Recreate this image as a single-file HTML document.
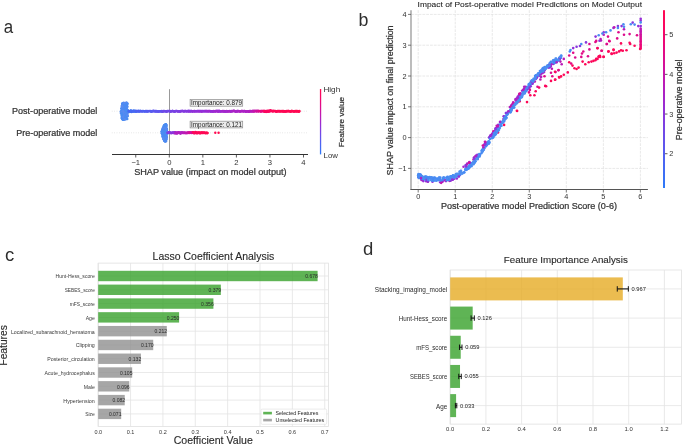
<!DOCTYPE html>
<html><head><meta charset="utf-8"><style>
html,body{margin:0;padding:0;background:#fff;width:685px;height:445px;overflow:hidden}
svg{display:block;filter:blur(0.35px)}
text{font-family:"Liberation Sans",sans-serif}
</style></head><body>
<svg width="685" height="445" viewBox="0 0 685 445">
<rect width="685" height="445" fill="#ffffff"/>
<text x="3.70" y="33.00" font-size="19.20" fill="#2e2e2e" textLength="9.40" lengthAdjust="spacingAndGlyphs">a</text>
<text x="358.40" y="26.00" font-size="17.80" fill="#2e2e2e">b</text>
<text x="5.00" y="260.80" font-size="18.50" fill="#2e2e2e">c</text>
<text x="363.10" y="255.20" font-size="18.50" fill="#2e2e2e">d</text>
<line x1="111.80" y1="111.20" x2="307.50" y2="111.20" stroke="#cfcfcf" stroke-width="0.60" stroke-dasharray="0.8 1.6"/>
<line x1="111.80" y1="132.80" x2="307.50" y2="132.80" stroke="#cfcfcf" stroke-width="0.60" stroke-dasharray="0.8 1.6"/>
<line x1="169.50" y1="89.20" x2="169.50" y2="154.50" stroke="#999999" stroke-width="1.00"/>
<line x1="112.00" y1="154.50" x2="308.00" y2="154.50" stroke="#333333" stroke-width="1.00"/>
<line x1="135.75" y1="154.50" x2="135.75" y2="157.50" stroke="#333333" stroke-width="0.80"/>
<text x="135.75" y="164.90" font-size="7.67" text-anchor="middle" fill="#333333">−1</text>
<line x1="169.30" y1="154.50" x2="169.30" y2="157.50" stroke="#333333" stroke-width="0.80"/>
<text x="169.30" y="164.90" font-size="7.67" text-anchor="middle" fill="#333333">0</text>
<line x1="202.85" y1="154.50" x2="202.85" y2="157.50" stroke="#333333" stroke-width="0.80"/>
<text x="202.85" y="164.90" font-size="7.67" text-anchor="middle" fill="#333333">1</text>
<line x1="236.40" y1="154.50" x2="236.40" y2="157.50" stroke="#333333" stroke-width="0.80"/>
<text x="236.40" y="164.90" font-size="7.67" text-anchor="middle" fill="#333333">2</text>
<line x1="269.95" y1="154.50" x2="269.95" y2="157.50" stroke="#333333" stroke-width="0.80"/>
<text x="269.95" y="164.90" font-size="7.67" text-anchor="middle" fill="#333333">3</text>
<line x1="303.50" y1="154.50" x2="303.50" y2="157.50" stroke="#333333" stroke-width="0.80"/>
<text x="303.50" y="164.90" font-size="7.67" text-anchor="middle" fill="#333333">4</text>
<text x="210.40" y="174.50" font-size="8.48" text-anchor="middle" fill="#333333" textLength="152.50" lengthAdjust="spacingAndGlyphs" stroke="#333333" stroke-width="0.22">SHAP value (impact on model output)</text>
<text x="97.30" y="114.40" font-size="8.39" text-anchor="end" fill="#333333" textLength="85.22" lengthAdjust="spacingAndGlyphs" stroke="#333333" stroke-width="0.22">Post-operative model</text>
<text x="97.30" y="135.80" font-size="8.38" text-anchor="end" fill="#333333" textLength="81.11" lengthAdjust="spacingAndGlyphs" stroke="#333333" stroke-width="0.22">Pre-operative model</text>
<circle cx="123.36" cy="104.16" r="1.30" fill="#5a8af0"/>
<circle cx="121.40" cy="112.60" r="1.30" fill="#4a8cf2"/>
<circle cx="122.29" cy="110.84" r="1.30" fill="#5a8af0"/>
<circle cx="124.29" cy="104.63" r="1.30" fill="#4a8cf2"/>
<circle cx="125.31" cy="110.02" r="1.30" fill="#5a8af0"/>
<circle cx="123.79" cy="118.96" r="1.30" fill="#4a8cf2"/>
<circle cx="123.51" cy="114.54" r="1.30" fill="#4a8cf2"/>
<circle cx="123.96" cy="119.25" r="1.30" fill="#4a8cf2"/>
<circle cx="125.11" cy="117.86" r="1.30" fill="#4a8cf2"/>
<circle cx="121.80" cy="115.85" r="1.30" fill="#5a8af0"/>
<circle cx="121.91" cy="109.06" r="1.30" fill="#4a8cf2"/>
<circle cx="123.19" cy="118.53" r="1.30" fill="#4a8cf2"/>
<circle cx="126.12" cy="107.77" r="1.30" fill="#5a8af0"/>
<circle cx="126.74" cy="106.42" r="1.30" fill="#4a8cf2"/>
<circle cx="126.80" cy="114.31" r="1.30" fill="#4a8cf2"/>
<circle cx="127.10" cy="115.60" r="1.30" fill="#4a8cf2"/>
<circle cx="123.85" cy="117.15" r="1.30" fill="#4a8cf2"/>
<circle cx="126.01" cy="105.19" r="1.30" fill="#4a8cf2"/>
<circle cx="123.15" cy="117.51" r="1.30" fill="#4a8cf2"/>
<circle cx="125.46" cy="109.49" r="1.30" fill="#4a8cf2"/>
<circle cx="126.27" cy="105.76" r="1.30" fill="#5a8af0"/>
<circle cx="127.44" cy="112.34" r="1.30" fill="#4a8cf2"/>
<circle cx="122.43" cy="117.17" r="1.30" fill="#5a8af0"/>
<circle cx="125.25" cy="113.30" r="1.30" fill="#5a8af0"/>
<circle cx="126.48" cy="116.08" r="1.30" fill="#4a8cf2"/>
<circle cx="121.85" cy="108.98" r="1.30" fill="#4a8cf2"/>
<circle cx="126.92" cy="106.34" r="1.30" fill="#4a8cf2"/>
<circle cx="124.39" cy="107.74" r="1.30" fill="#5a8af0"/>
<circle cx="125.97" cy="119.11" r="1.30" fill="#4a8cf2"/>
<circle cx="125.88" cy="111.96" r="1.30" fill="#4a8cf2"/>
<circle cx="123.92" cy="114.26" r="1.30" fill="#4a8cf2"/>
<circle cx="125.81" cy="114.08" r="1.30" fill="#4a8cf2"/>
<circle cx="122.15" cy="112.13" r="1.30" fill="#4a8cf2"/>
<circle cx="124.80" cy="104.83" r="1.30" fill="#4a8cf2"/>
<circle cx="124.05" cy="115.86" r="1.30" fill="#4a8cf2"/>
<circle cx="122.29" cy="111.67" r="1.30" fill="#5a8af0"/>
<circle cx="123.90" cy="109.31" r="1.30" fill="#5a8af0"/>
<circle cx="123.71" cy="109.38" r="1.30" fill="#4a8cf2"/>
<circle cx="121.82" cy="110.87" r="1.30" fill="#4a8cf2"/>
<circle cx="125.09" cy="118.36" r="1.30" fill="#5a8af0"/>
<circle cx="126.64" cy="118.80" r="1.30" fill="#5a8af0"/>
<circle cx="126.61" cy="116.52" r="1.30" fill="#4a8cf2"/>
<circle cx="123.52" cy="110.89" r="1.30" fill="#4a8cf2"/>
<circle cx="123.02" cy="112.42" r="1.30" fill="#4a8cf2"/>
<circle cx="121.48" cy="112.60" r="1.30" fill="#4a8cf2"/>
<circle cx="126.06" cy="109.33" r="1.30" fill="#4a8cf2"/>
<circle cx="124.94" cy="105.57" r="1.30" fill="#4a8cf2"/>
<circle cx="123.61" cy="114.01" r="1.30" fill="#4a8cf2"/>
<circle cx="123.39" cy="118.54" r="1.30" fill="#4a8cf2"/>
<circle cx="123.34" cy="107.46" r="1.30" fill="#4a8cf2"/>
<circle cx="127.57" cy="111.82" r="1.30" fill="#4a8cf2"/>
<circle cx="125.84" cy="109.76" r="1.30" fill="#5a8af0"/>
<circle cx="123.32" cy="119.70" r="1.30" fill="#4a8cf2"/>
<circle cx="121.84" cy="117.68" r="1.30" fill="#4a8cf2"/>
<circle cx="126.40" cy="105.66" r="1.30" fill="#5a8af0"/>
<circle cx="120.81" cy="111.85" r="1.30" fill="#4a8cf2"/>
<circle cx="127.01" cy="109.77" r="1.30" fill="#4a8cf2"/>
<circle cx="124.10" cy="114.08" r="1.30" fill="#4a8cf2"/>
<circle cx="123.63" cy="114.67" r="1.30" fill="#4a8cf2"/>
<circle cx="124.71" cy="115.71" r="1.30" fill="#5a8af0"/>
<circle cx="122.03" cy="111.48" r="1.30" fill="#4a8cf2"/>
<circle cx="124.95" cy="117.54" r="1.30" fill="#5a8af0"/>
<circle cx="123.73" cy="102.72" r="1.30" fill="#5a8af0"/>
<circle cx="125.16" cy="114.36" r="1.30" fill="#4a8cf2"/>
<circle cx="125.69" cy="117.60" r="1.30" fill="#4a8cf2"/>
<circle cx="125.57" cy="112.26" r="1.30" fill="#4a8cf2"/>
<circle cx="125.46" cy="114.08" r="1.30" fill="#5a8af0"/>
<circle cx="121.37" cy="110.86" r="1.30" fill="#4a8cf2"/>
<circle cx="125.41" cy="117.28" r="1.30" fill="#4a8cf2"/>
<circle cx="123.75" cy="109.35" r="1.30" fill="#5a8af0"/>
<circle cx="126.79" cy="104.02" r="1.30" fill="#5a8af0"/>
<circle cx="123.08" cy="119.06" r="1.30" fill="#4a8cf2"/>
<circle cx="124.02" cy="117.90" r="1.30" fill="#4a8cf2"/>
<circle cx="125.73" cy="109.20" r="1.30" fill="#4a8cf2"/>
<circle cx="125.68" cy="110.98" r="1.30" fill="#5a8af0"/>
<circle cx="126.32" cy="102.91" r="1.30" fill="#4a8cf2"/>
<circle cx="125.15" cy="110.11" r="1.30" fill="#4a8cf2"/>
<circle cx="122.84" cy="117.77" r="1.30" fill="#4a8cf2"/>
<circle cx="125.54" cy="105.56" r="1.30" fill="#5a8af0"/>
<circle cx="122.35" cy="117.70" r="1.30" fill="#4a8cf2"/>
<circle cx="122.81" cy="117.87" r="1.30" fill="#4a8cf2"/>
<circle cx="126.29" cy="114.82" r="1.30" fill="#4a8cf2"/>
<circle cx="125.72" cy="113.56" r="1.30" fill="#4a8cf2"/>
<circle cx="125.15" cy="113.79" r="1.30" fill="#4a8cf2"/>
<circle cx="123.31" cy="111.40" r="1.30" fill="#4a8cf2"/>
<circle cx="122.99" cy="118.38" r="1.30" fill="#4a8cf2"/>
<circle cx="126.55" cy="102.91" r="1.30" fill="#5a8af0"/>
<circle cx="123.05" cy="106.72" r="1.30" fill="#4a8cf2"/>
<circle cx="124.30" cy="112.90" r="1.30" fill="#5a8af0"/>
<circle cx="127.04" cy="106.26" r="1.30" fill="#4a8cf2"/>
<circle cx="126.51" cy="116.43" r="1.30" fill="#5a8af0"/>
<circle cx="125.30" cy="111.18" r="1.30" fill="#4a8cf2"/>
<circle cx="124.80" cy="105.94" r="1.30" fill="#5a8af0"/>
<circle cx="121.91" cy="118.15" r="1.30" fill="#4a8cf2"/>
<circle cx="121.96" cy="108.26" r="1.30" fill="#4a8cf2"/>
<circle cx="127.53" cy="116.21" r="1.30" fill="#4a8cf2"/>
<circle cx="124.74" cy="109.22" r="1.30" fill="#5a8af0"/>
<circle cx="122.13" cy="115.39" r="1.30" fill="#4a8cf2"/>
<circle cx="124.49" cy="117.45" r="1.30" fill="#4a8cf2"/>
<circle cx="125.55" cy="115.92" r="1.30" fill="#5a8af0"/>
<circle cx="122.39" cy="111.98" r="1.30" fill="#4a8cf2"/>
<circle cx="122.67" cy="119.59" r="1.30" fill="#4a8cf2"/>
<circle cx="122.93" cy="117.67" r="1.30" fill="#4a8cf2"/>
<circle cx="123.60" cy="109.49" r="1.30" fill="#4a8cf2"/>
<circle cx="127.64" cy="109.97" r="1.30" fill="#4a8cf2"/>
<circle cx="122.45" cy="118.75" r="1.30" fill="#5a8af0"/>
<circle cx="126.07" cy="108.36" r="1.30" fill="#4a8cf2"/>
<circle cx="125.89" cy="110.30" r="1.30" fill="#4a8cf2"/>
<circle cx="122.40" cy="116.41" r="1.30" fill="#4a8cf2"/>
<circle cx="121.12" cy="113.13" r="1.30" fill="#5a8af0"/>
<circle cx="123.08" cy="109.78" r="1.30" fill="#4a8cf2"/>
<circle cx="121.61" cy="113.77" r="1.30" fill="#4a8cf2"/>
<circle cx="122.76" cy="107.87" r="1.30" fill="#5a8af0"/>
<circle cx="127.31" cy="112.77" r="1.30" fill="#5a8af0"/>
<circle cx="123.21" cy="107.71" r="1.30" fill="#4a8cf2"/>
<circle cx="125.24" cy="106.82" r="1.30" fill="#5a8af0"/>
<circle cx="123.35" cy="107.73" r="1.30" fill="#5a8af0"/>
<circle cx="122.79" cy="118.99" r="1.30" fill="#4a8cf2"/>
<circle cx="124.74" cy="115.61" r="1.30" fill="#4a8cf2"/>
<circle cx="126.34" cy="113.47" r="1.30" fill="#4a8cf2"/>
<circle cx="127.22" cy="119.05" r="1.30" fill="#4a8cf2"/>
<circle cx="123.11" cy="110.68" r="1.30" fill="#4a8cf2"/>
<circle cx="124.94" cy="106.19" r="1.30" fill="#5a8af0"/>
<circle cx="126.81" cy="111.31" r="1.30" fill="#4a8cf2"/>
<circle cx="122.28" cy="117.72" r="1.30" fill="#4a8cf2"/>
<circle cx="123.61" cy="114.94" r="1.30" fill="#4a8cf2"/>
<circle cx="126.42" cy="104.18" r="1.30" fill="#4a8cf2"/>
<circle cx="127.18" cy="103.66" r="1.30" fill="#5a8af0"/>
<circle cx="122.57" cy="109.00" r="1.30" fill="#5a8af0"/>
<circle cx="125.72" cy="116.09" r="1.30" fill="#4a8cf2"/>
<circle cx="127.87" cy="111.63" r="1.30" fill="#4a8cf2"/>
<circle cx="122.46" cy="104.13" r="1.30" fill="#4a8cf2"/>
<circle cx="125.61" cy="115.16" r="1.30" fill="#5a8af0"/>
<circle cx="123.54" cy="107.70" r="1.30" fill="#4a8cf2"/>
<circle cx="123.08" cy="109.03" r="1.30" fill="#5a8af0"/>
<circle cx="123.29" cy="105.21" r="1.30" fill="#5a8af0"/>
<circle cx="123.67" cy="109.46" r="1.30" fill="#5a8af0"/>
<circle cx="122.93" cy="117.89" r="1.30" fill="#4a8cf2"/>
<circle cx="125.07" cy="111.07" r="1.30" fill="#4a8cf2"/>
<circle cx="125.68" cy="112.75" r="1.30" fill="#5a8af0"/>
<circle cx="125.51" cy="106.82" r="1.30" fill="#4a8cf2"/>
<circle cx="122.26" cy="103.80" r="1.30" fill="#4a8cf2"/>
<circle cx="123.88" cy="115.99" r="1.30" fill="#4a8cf2"/>
<circle cx="122.77" cy="110.37" r="1.30" fill="#4a8cf2"/>
<circle cx="126.92" cy="105.79" r="1.30" fill="#4a8cf2"/>
<circle cx="123.20" cy="109.85" r="1.30" fill="#5a8af0"/>
<circle cx="124.09" cy="114.64" r="1.30" fill="#4a8cf2"/>
<circle cx="125.19" cy="109.43" r="1.30" fill="#4a8cf2"/>
<circle cx="127.30" cy="112.52" r="1.30" fill="#5a8af0"/>
<circle cx="124.01" cy="103.57" r="1.30" fill="#4a8cf2"/>
<circle cx="126.67" cy="109.07" r="1.30" fill="#4a8cf2"/>
<circle cx="121.32" cy="112.34" r="1.30" fill="#5a8af0"/>
<circle cx="123.05" cy="113.11" r="1.30" fill="#5a8af0"/>
<circle cx="122.90" cy="103.36" r="1.30" fill="#5a8af0"/>
<circle cx="122.61" cy="103.48" r="1.30" fill="#4a8cf2"/>
<circle cx="125.37" cy="114.77" r="1.30" fill="#4a8cf2"/>
<circle cx="125.87" cy="107.37" r="1.30" fill="#4a8cf2"/>
<circle cx="121.80" cy="106.00" r="1.30" fill="#4a8cf2"/>
<circle cx="122.32" cy="118.52" r="1.30" fill="#4a8cf2"/>
<circle cx="125.83" cy="118.16" r="1.30" fill="#4a8cf2"/>
<circle cx="122.07" cy="113.73" r="1.30" fill="#4a8cf2"/>
<circle cx="127.03" cy="107.17" r="1.30" fill="#5a8af0"/>
<circle cx="123.99" cy="115.65" r="1.30" fill="#5a8af0"/>
<circle cx="124.33" cy="119.36" r="1.30" fill="#4a8cf2"/>
<circle cx="122.68" cy="105.46" r="1.30" fill="#5a8af0"/>
<circle cx="125.27" cy="103.72" r="1.30" fill="#4a8cf2"/>
<circle cx="126.36" cy="114.07" r="1.30" fill="#5a8af0"/>
<circle cx="123.97" cy="109.33" r="1.30" fill="#4a8cf2"/>
<circle cx="126.60" cy="114.70" r="1.30" fill="#4a8cf2"/>
<circle cx="121.39" cy="108.22" r="1.30" fill="#4a8cf2"/>
<circle cx="127.49" cy="115.17" r="1.30" fill="#5a8af0"/>
<circle cx="124.19" cy="103.86" r="1.30" fill="#5a8af0"/>
<circle cx="123.44" cy="111.28" r="1.30" fill="#5a8af0"/>
<circle cx="122.32" cy="117.39" r="1.30" fill="#4a8cf2"/>
<circle cx="123.14" cy="105.20" r="1.30" fill="#4a8cf2"/>
<circle cx="126.55" cy="107.00" r="1.30" fill="#4a8cf2"/>
<circle cx="125.58" cy="105.78" r="1.30" fill="#4a8cf2"/>
<circle cx="127.50" cy="103.83" r="1.30" fill="#4a8cf2"/>
<circle cx="124.81" cy="104.93" r="1.30" fill="#4a8cf2"/>
<circle cx="121.99" cy="116.12" r="1.30" fill="#4a8cf2"/>
<circle cx="125.01" cy="119.12" r="1.30" fill="#5a8af0"/>
<circle cx="126.01" cy="117.95" r="1.30" fill="#4a8cf2"/>
<circle cx="121.66" cy="113.64" r="1.30" fill="#4a8cf2"/>
<circle cx="123.30" cy="117.05" r="1.30" fill="#5a8af0"/>
<circle cx="126.47" cy="111.71" r="1.30" fill="#4a8cf2"/>
<circle cx="124.82" cy="119.24" r="1.30" fill="#5a8af0"/>
<circle cx="125.11" cy="116.67" r="1.30" fill="#4a8cf2"/>
<circle cx="125.70" cy="110.01" r="1.30" fill="#4a8cf2"/>
<circle cx="125.70" cy="110.17" r="1.30" fill="#4a8cf2"/>
<circle cx="122.20" cy="106.38" r="1.30" fill="#5a8af0"/>
<circle cx="128.00" cy="112.33" r="1.20" fill="#4f86f0"/>
<circle cx="128.70" cy="112.16" r="1.20" fill="#4f86f0"/>
<circle cx="129.40" cy="111.77" r="1.20" fill="#4f86f0"/>
<circle cx="130.10" cy="111.47" r="1.20" fill="#4f86f0"/>
<circle cx="130.80" cy="110.11" r="1.20" fill="#4f86f0"/>
<circle cx="131.50" cy="112.09" r="1.20" fill="#4f86f0"/>
<circle cx="132.20" cy="111.14" r="1.20" fill="#4f86f0"/>
<circle cx="132.90" cy="111.59" r="1.20" fill="#4f86f0"/>
<circle cx="133.60" cy="110.46" r="1.20" fill="#4f86f0"/>
<circle cx="134.30" cy="111.65" r="1.20" fill="#4f86f0"/>
<circle cx="135.00" cy="110.60" r="1.20" fill="#4f86f0"/>
<circle cx="135.70" cy="111.91" r="1.20" fill="#4f86f0"/>
<circle cx="136.40" cy="111.50" r="1.20" fill="#4f86f0"/>
<circle cx="137.10" cy="111.24" r="1.20" fill="#4f86f0"/>
<circle cx="137.80" cy="111.38" r="1.20" fill="#4f86f0"/>
<circle cx="138.50" cy="110.92" r="1.20" fill="#4f86f0"/>
<circle cx="139.20" cy="111.20" r="1.20" fill="#4f86f0"/>
<circle cx="139.90" cy="110.88" r="1.20" fill="#4f86f0"/>
<circle cx="140.60" cy="111.06" r="1.20" fill="#4f86f0"/>
<circle cx="141.30" cy="111.09" r="1.20" fill="#4f86f0"/>
<circle cx="128.80" cy="111.13" r="1.20" fill="#406cf4"/>
<circle cx="128.72" cy="111.07" r="1.20" fill="#4b64f2"/>
<circle cx="129.94" cy="111.14" r="1.20" fill="#426af4"/>
<circle cx="129.57" cy="111.13" r="1.20" fill="#4766f3"/>
<circle cx="130.80" cy="111.17" r="1.20" fill="#4b64f2"/>
<circle cx="130.79" cy="111.48" r="1.20" fill="#4469f3"/>
<circle cx="131.38" cy="110.93" r="1.20" fill="#4866f3"/>
<circle cx="131.13" cy="111.18" r="1.20" fill="#436af4"/>
<circle cx="132.19" cy="110.95" r="1.20" fill="#426bf4"/>
<circle cx="132.15" cy="111.14" r="1.20" fill="#4866f3"/>
<circle cx="132.77" cy="111.20" r="1.20" fill="#4668f3"/>
<circle cx="132.75" cy="111.13" r="1.20" fill="#4a64f2"/>
<circle cx="133.68" cy="111.37" r="1.20" fill="#4d63f2"/>
<circle cx="133.51" cy="110.97" r="1.20" fill="#4667f3"/>
<circle cx="134.66" cy="111.19" r="1.20" fill="#4b64f2"/>
<circle cx="134.34" cy="111.03" r="1.20" fill="#4668f3"/>
<circle cx="135.55" cy="111.35" r="1.20" fill="#4866f3"/>
<circle cx="135.63" cy="110.91" r="1.20" fill="#4569f3"/>
<circle cx="136.12" cy="111.33" r="1.20" fill="#5060f1"/>
<circle cx="136.21" cy="110.91" r="1.20" fill="#4c63f2"/>
<circle cx="136.71" cy="111.45" r="1.20" fill="#4a65f2"/>
<circle cx="136.76" cy="110.92" r="1.20" fill="#5060f1"/>
<circle cx="138.04" cy="110.95" r="1.20" fill="#525ef1"/>
<circle cx="138.02" cy="111.06" r="1.20" fill="#4767f3"/>
<circle cx="138.39" cy="111.15" r="1.20" fill="#4a65f2"/>
<circle cx="138.41" cy="111.02" r="1.20" fill="#525ff1"/>
<circle cx="139.12" cy="111.54" r="1.20" fill="#4d62f2"/>
<circle cx="139.54" cy="111.21" r="1.20" fill="#535ef0"/>
<circle cx="140.01" cy="111.00" r="1.20" fill="#4f61f1"/>
<circle cx="140.20" cy="111.06" r="1.20" fill="#4c63f2"/>
<circle cx="140.75" cy="111.20" r="1.20" fill="#535ef0"/>
<circle cx="141.22" cy="111.13" r="1.20" fill="#555cf0"/>
<circle cx="142.08" cy="111.06" r="1.20" fill="#4b64f2"/>
<circle cx="142.00" cy="111.55" r="1.20" fill="#525ff1"/>
<circle cx="142.88" cy="111.18" r="1.20" fill="#515ff1"/>
<circle cx="142.34" cy="111.10" r="1.20" fill="#565cf0"/>
<circle cx="143.16" cy="110.91" r="1.20" fill="#4c63f2"/>
<circle cx="143.40" cy="111.28" r="1.20" fill="#525ff1"/>
<circle cx="144.43" cy="111.34" r="1.20" fill="#545df0"/>
<circle cx="144.26" cy="111.20" r="1.20" fill="#4d62f2"/>
<circle cx="144.76" cy="111.32" r="1.20" fill="#4f61f1"/>
<circle cx="144.95" cy="111.32" r="1.20" fill="#545df0"/>
<circle cx="145.65" cy="111.01" r="1.20" fill="#4f61f1"/>
<circle cx="145.90" cy="111.38" r="1.20" fill="#4f61f1"/>
<circle cx="146.46" cy="110.92" r="1.20" fill="#555cf0"/>
<circle cx="146.48" cy="111.50" r="1.20" fill="#515ff1"/>
<circle cx="147.49" cy="111.31" r="1.20" fill="#5a59ef"/>
<circle cx="147.53" cy="111.55" r="1.20" fill="#565cf0"/>
<circle cx="147.90" cy="111.06" r="1.20" fill="#585aef"/>
<circle cx="148.11" cy="111.33" r="1.20" fill="#5160f1"/>
<circle cx="149.09" cy="111.11" r="1.20" fill="#5b58ef"/>
<circle cx="148.74" cy="111.09" r="1.20" fill="#5959ef"/>
<circle cx="149.74" cy="111.17" r="1.20" fill="#555df0"/>
<circle cx="149.56" cy="111.06" r="1.20" fill="#5b58ef"/>
<circle cx="150.76" cy="111.05" r="1.20" fill="#5959ef"/>
<circle cx="150.78" cy="111.44" r="1.20" fill="#525ff1"/>
<circle cx="151.20" cy="111.56" r="1.20" fill="#555cf0"/>
<circle cx="151.57" cy="111.30" r="1.20" fill="#5d57ee"/>
<circle cx="151.95" cy="111.55" r="1.20" fill="#5d56ee"/>
<circle cx="152.04" cy="111.37" r="1.20" fill="#535ef0"/>
<circle cx="153.22" cy="111.13" r="1.20" fill="#5d57ee"/>
<circle cx="153.18" cy="110.82" r="1.20" fill="#5e56ee"/>
<circle cx="153.56" cy="110.92" r="1.20" fill="#5a59ef"/>
<circle cx="153.65" cy="111.32" r="1.20" fill="#575bf0"/>
<circle cx="154.67" cy="111.41" r="1.20" fill="#6253ed"/>
<circle cx="154.54" cy="111.03" r="1.20" fill="#5d57ee"/>
<circle cx="155.49" cy="111.54" r="1.20" fill="#5e56ee"/>
<circle cx="155.36" cy="111.04" r="1.20" fill="#6055ee"/>
<circle cx="156.28" cy="110.86" r="1.20" fill="#5b58ef"/>
<circle cx="156.00" cy="111.20" r="1.20" fill="#5c57ef"/>
<circle cx="156.80" cy="111.22" r="1.20" fill="#6153ed"/>
<circle cx="156.90" cy="111.47" r="1.20" fill="#5a59ef"/>
<circle cx="157.53" cy="111.37" r="1.20" fill="#6153ed"/>
<circle cx="157.95" cy="111.55" r="1.20" fill="#6054ed"/>
<circle cx="158.79" cy="111.32" r="1.20" fill="#6253ed"/>
<circle cx="158.60" cy="111.59" r="1.20" fill="#5f55ee"/>
<circle cx="159.35" cy="111.18" r="1.20" fill="#6550eb"/>
<circle cx="159.14" cy="111.32" r="1.20" fill="#5c57ef"/>
<circle cx="160.13" cy="111.15" r="1.20" fill="#6650eb"/>
<circle cx="160.24" cy="111.28" r="1.20" fill="#5d56ee"/>
<circle cx="160.90" cy="111.39" r="1.20" fill="#6551ec"/>
<circle cx="161.20" cy="111.23" r="1.20" fill="#674feb"/>
<circle cx="161.91" cy="111.59" r="1.20" fill="#5f55ee"/>
<circle cx="161.57" cy="110.87" r="1.20" fill="#6352ec"/>
<circle cx="162.31" cy="111.59" r="1.20" fill="#6352ec"/>
<circle cx="162.58" cy="111.51" r="1.20" fill="#684eea"/>
<circle cx="163.25" cy="111.03" r="1.20" fill="#694eea"/>
<circle cx="163.28" cy="111.18" r="1.20" fill="#694eea"/>
<circle cx="163.95" cy="111.50" r="1.20" fill="#7446e5"/>
<circle cx="164.24" cy="110.88" r="1.20" fill="#7347e6"/>
<circle cx="164.92" cy="111.11" r="1.20" fill="#694eea"/>
<circle cx="165.26" cy="111.35" r="1.20" fill="#6a4de9"/>
<circle cx="165.72" cy="111.14" r="1.20" fill="#6d4be8"/>
<circle cx="165.90" cy="111.56" r="1.20" fill="#674feb"/>
<circle cx="166.81" cy="111.48" r="1.20" fill="#6b4ce9"/>
<circle cx="166.89" cy="111.50" r="1.20" fill="#7446e5"/>
<circle cx="167.16" cy="111.16" r="1.20" fill="#7644e4"/>
<circle cx="167.43" cy="110.85" r="1.20" fill="#7644e4"/>
<circle cx="168.15" cy="110.98" r="1.20" fill="#7148e7"/>
<circle cx="167.96" cy="111.09" r="1.20" fill="#6b4ce9"/>
<circle cx="169.30" cy="110.91" r="1.20" fill="#7247e6"/>
<circle cx="168.88" cy="111.17" r="1.20" fill="#7247e6"/>
<circle cx="170.03" cy="110.95" r="1.20" fill="#7e3fe1"/>
<circle cx="169.74" cy="111.59" r="1.20" fill="#7347e6"/>
<circle cx="170.35" cy="111.47" r="1.20" fill="#7148e7"/>
<circle cx="170.75" cy="111.50" r="1.20" fill="#7247e6"/>
<circle cx="171.29" cy="111.25" r="1.20" fill="#7d3fe1"/>
<circle cx="171.61" cy="111.19" r="1.20" fill="#7843e3"/>
<circle cx="172.38" cy="110.92" r="1.20" fill="#7f3ee1"/>
<circle cx="172.42" cy="110.99" r="1.20" fill="#7a41e3"/>
<circle cx="173.14" cy="111.32" r="1.20" fill="#7247e6"/>
<circle cx="172.74" cy="110.98" r="1.20" fill="#7247e6"/>
<circle cx="173.79" cy="111.39" r="1.20" fill="#7b41e2"/>
<circle cx="174.04" cy="111.19" r="1.20" fill="#7942e3"/>
<circle cx="174.38" cy="111.56" r="1.20" fill="#7d3fe1"/>
<circle cx="174.89" cy="111.55" r="1.20" fill="#7346e5"/>
<circle cx="175.46" cy="111.19" r="1.20" fill="#7f3ee1"/>
<circle cx="175.13" cy="111.33" r="1.20" fill="#7d3fe2"/>
<circle cx="176.12" cy="110.90" r="1.20" fill="#7f3ee1"/>
<circle cx="175.93" cy="111.07" r="1.20" fill="#7446e5"/>
<circle cx="176.88" cy="111.00" r="1.20" fill="#7f3ee1"/>
<circle cx="177.11" cy="111.37" r="1.20" fill="#7b41e2"/>
<circle cx="177.95" cy="111.33" r="1.20" fill="#7e3fe1"/>
<circle cx="177.97" cy="111.58" r="1.20" fill="#7d3fe1"/>
<circle cx="178.88" cy="111.30" r="1.20" fill="#7c40e2"/>
<circle cx="178.59" cy="111.32" r="1.20" fill="#7b41e2"/>
<circle cx="179.65" cy="111.11" r="1.20" fill="#813ce0"/>
<circle cx="179.62" cy="111.46" r="1.20" fill="#823cdf"/>
<circle cx="180.33" cy="111.41" r="1.20" fill="#813ce0"/>
<circle cx="180.16" cy="111.52" r="1.20" fill="#7a41e3"/>
<circle cx="180.78" cy="111.05" r="1.20" fill="#7c40e2"/>
<circle cx="181.28" cy="111.22" r="1.20" fill="#8738dd"/>
<circle cx="181.83" cy="110.97" r="1.20" fill="#8738dd"/>
<circle cx="182.03" cy="110.90" r="1.20" fill="#8639de"/>
<circle cx="182.64" cy="110.94" r="1.20" fill="#7f3de0"/>
<circle cx="182.74" cy="110.95" r="1.20" fill="#843adf"/>
<circle cx="183.42" cy="111.22" r="1.20" fill="#7e3fe1"/>
<circle cx="183.60" cy="111.23" r="1.20" fill="#8639de"/>
<circle cx="184.28" cy="111.06" r="1.20" fill="#8837dd"/>
<circle cx="184.14" cy="111.54" r="1.20" fill="#833bdf"/>
<circle cx="184.82" cy="111.17" r="1.20" fill="#833bdf"/>
<circle cx="185.27" cy="111.05" r="1.20" fill="#8b35dc"/>
<circle cx="185.52" cy="110.91" r="1.20" fill="#823cdf"/>
<circle cx="185.94" cy="111.28" r="1.20" fill="#843adf"/>
<circle cx="186.55" cy="111.47" r="1.20" fill="#813ce0"/>
<circle cx="186.77" cy="111.10" r="1.20" fill="#8936dc"/>
<circle cx="187.59" cy="111.14" r="1.20" fill="#823cdf"/>
<circle cx="187.24" cy="111.00" r="1.20" fill="#803de0"/>
<circle cx="188.16" cy="111.32" r="1.20" fill="#8639de"/>
<circle cx="188.47" cy="111.55" r="1.20" fill="#8c34db"/>
<circle cx="189.18" cy="111.05" r="1.20" fill="#8d34db"/>
<circle cx="188.73" cy="110.82" r="1.20" fill="#813ce0"/>
<circle cx="189.69" cy="111.38" r="1.20" fill="#813ce0"/>
<circle cx="189.73" cy="111.28" r="1.20" fill="#8f32da"/>
<circle cx="190.64" cy="111.00" r="1.20" fill="#833bdf"/>
<circle cx="190.60" cy="111.45" r="1.20" fill="#8f32da"/>
<circle cx="191.47" cy="110.94" r="1.20" fill="#843adf"/>
<circle cx="191.13" cy="111.02" r="1.20" fill="#8b35db"/>
<circle cx="191.99" cy="111.30" r="1.20" fill="#8837dd"/>
<circle cx="192.37" cy="111.22" r="1.20" fill="#9031da"/>
<circle cx="192.85" cy="111.26" r="1.20" fill="#932fd8"/>
<circle cx="192.71" cy="111.55" r="1.20" fill="#8e33da"/>
<circle cx="194.10" cy="111.03" r="1.20" fill="#8d34db"/>
<circle cx="193.91" cy="111.28" r="1.20" fill="#8f32da"/>
<circle cx="194.82" cy="110.93" r="1.20" fill="#9130d9"/>
<circle cx="194.57" cy="111.53" r="1.20" fill="#952ed7"/>
<circle cx="195.37" cy="111.09" r="1.20" fill="#952ed7"/>
<circle cx="195.66" cy="111.42" r="1.20" fill="#952dd7"/>
<circle cx="196.47" cy="111.19" r="1.20" fill="#8d33db"/>
<circle cx="195.93" cy="111.15" r="1.20" fill="#8b35dc"/>
<circle cx="197.14" cy="111.29" r="1.20" fill="#972cd6"/>
<circle cx="197.11" cy="111.00" r="1.20" fill="#8e33da"/>
<circle cx="197.80" cy="111.23" r="1.20" fill="#982cd5"/>
<circle cx="197.88" cy="111.06" r="1.20" fill="#8d33db"/>
<circle cx="198.65" cy="110.87" r="1.20" fill="#9131d9"/>
<circle cx="198.84" cy="111.53" r="1.20" fill="#932fd8"/>
<circle cx="199.43" cy="111.07" r="1.20" fill="#942ed8"/>
<circle cx="199.37" cy="111.32" r="1.20" fill="#9a2bd4"/>
<circle cx="200.35" cy="110.91" r="1.20" fill="#8e33da"/>
<circle cx="200.31" cy="111.58" r="1.20" fill="#952ed7"/>
<circle cx="201.20" cy="111.02" r="1.20" fill="#9031da"/>
<circle cx="201.29" cy="111.50" r="1.20" fill="#932fd8"/>
<circle cx="201.99" cy="111.31" r="1.20" fill="#992bd4"/>
<circle cx="201.85" cy="111.35" r="1.20" fill="#9c2ad2"/>
<circle cx="202.56" cy="111.39" r="1.20" fill="#9d29d1"/>
<circle cx="202.32" cy="111.00" r="1.20" fill="#932fd8"/>
<circle cx="203.44" cy="111.16" r="1.20" fill="#9d29d1"/>
<circle cx="203.21" cy="111.04" r="1.20" fill="#8f32da"/>
<circle cx="204.01" cy="111.28" r="1.20" fill="#8f32da"/>
<circle cx="204.46" cy="111.41" r="1.20" fill="#9031da"/>
<circle cx="205.17" cy="110.90" r="1.20" fill="#972cd6"/>
<circle cx="204.83" cy="110.94" r="1.20" fill="#982cd5"/>
<circle cx="206.03" cy="110.87" r="1.20" fill="#932fd8"/>
<circle cx="205.79" cy="111.56" r="1.20" fill="#952dd7"/>
<circle cx="206.82" cy="111.23" r="1.20" fill="#972cd6"/>
<circle cx="206.76" cy="110.96" r="1.20" fill="#992cd5"/>
<circle cx="207.12" cy="111.22" r="1.20" fill="#a128ce"/>
<circle cx="207.14" cy="110.88" r="1.20" fill="#9a2bd4"/>
<circle cx="208.46" cy="111.25" r="1.20" fill="#a028ce"/>
<circle cx="208.09" cy="111.59" r="1.20" fill="#942ed8"/>
<circle cx="209.16" cy="111.07" r="1.20" fill="#9f29cf"/>
<circle cx="208.72" cy="111.05" r="1.20" fill="#a028ce"/>
<circle cx="209.96" cy="111.19" r="1.20" fill="#982cd5"/>
<circle cx="210.07" cy="110.96" r="1.20" fill="#952ed7"/>
<circle cx="210.34" cy="111.34" r="1.20" fill="#a127cd"/>
<circle cx="210.38" cy="111.41" r="1.20" fill="#9f29cf"/>
<circle cx="211.22" cy="111.22" r="1.20" fill="#9c2ad2"/>
<circle cx="211.13" cy="111.56" r="1.20" fill="#952ed7"/>
<circle cx="211.99" cy="111.36" r="1.20" fill="#9b2ad2"/>
<circle cx="212.37" cy="111.32" r="1.20" fill="#952ed8"/>
<circle cx="212.97" cy="111.58" r="1.20" fill="#992cd5"/>
<circle cx="212.81" cy="111.51" r="1.20" fill="#952ed7"/>
<circle cx="213.74" cy="111.60" r="1.20" fill="#a227cd"/>
<circle cx="213.58" cy="110.87" r="1.20" fill="#9c2ad2"/>
<circle cx="214.71" cy="111.45" r="1.20" fill="#982cd5"/>
<circle cx="214.56" cy="111.16" r="1.20" fill="#9a2bd4"/>
<circle cx="215.51" cy="111.23" r="1.20" fill="#9c2ad2"/>
<circle cx="215.56" cy="111.04" r="1.20" fill="#9f29cf"/>
<circle cx="216.37" cy="111.07" r="1.20" fill="#962dd7"/>
<circle cx="215.90" cy="111.43" r="1.20" fill="#a327cc"/>
<circle cx="217.13" cy="110.82" r="1.20" fill="#9a2bd3"/>
<circle cx="217.27" cy="111.25" r="1.20" fill="#9d2ad1"/>
<circle cx="218.08" cy="111.57" r="1.20" fill="#9a2bd3"/>
<circle cx="217.93" cy="111.45" r="1.20" fill="#a426cb"/>
<circle cx="218.85" cy="111.40" r="1.20" fill="#982cd5"/>
<circle cx="218.48" cy="110.96" r="1.20" fill="#a127cd"/>
<circle cx="219.43" cy="111.58" r="1.20" fill="#9b2ad2"/>
<circle cx="219.18" cy="110.82" r="1.20" fill="#9b2bd3"/>
<circle cx="220.44" cy="111.29" r="1.20" fill="#9c2ad2"/>
<circle cx="220.25" cy="111.32" r="1.20" fill="#9d29d1"/>
<circle cx="220.71" cy="111.36" r="1.20" fill="#a227cd"/>
<circle cx="220.75" cy="111.20" r="1.20" fill="#9b2bd3"/>
<circle cx="221.75" cy="111.39" r="1.20" fill="#a227cc"/>
<circle cx="221.70" cy="111.41" r="1.20" fill="#9d2ad1"/>
<circle cx="222.69" cy="111.03" r="1.20" fill="#a326cb"/>
<circle cx="222.64" cy="111.28" r="1.20" fill="#a725c8"/>
<circle cx="223.59" cy="111.58" r="1.20" fill="#9d29d1"/>
<circle cx="223.69" cy="111.34" r="1.20" fill="#9c2ad2"/>
<circle cx="223.90" cy="110.99" r="1.20" fill="#a127cd"/>
<circle cx="224.28" cy="111.51" r="1.20" fill="#a824c8"/>
<circle cx="225.25" cy="111.50" r="1.20" fill="#a924c7"/>
<circle cx="225.29" cy="111.40" r="1.20" fill="#9d29d1"/>
<circle cx="225.84" cy="111.16" r="1.20" fill="#a625c9"/>
<circle cx="225.67" cy="111.54" r="1.20" fill="#a028cf"/>
<circle cx="226.57" cy="110.94" r="1.20" fill="#aa23c5"/>
<circle cx="226.84" cy="111.56" r="1.20" fill="#9f29cf"/>
<circle cx="227.30" cy="111.53" r="1.20" fill="#aa23c5"/>
<circle cx="227.17" cy="111.17" r="1.20" fill="#9d2ad1"/>
<circle cx="228.40" cy="111.47" r="1.20" fill="#ab22c4"/>
<circle cx="228.39" cy="111.14" r="1.20" fill="#a227cc"/>
<circle cx="229.10" cy="111.14" r="1.20" fill="#ac22c4"/>
<circle cx="228.98" cy="111.17" r="1.20" fill="#ac22c3"/>
<circle cx="229.66" cy="111.06" r="1.20" fill="#9f29d0"/>
<circle cx="230.06" cy="111.22" r="1.20" fill="#a426ca"/>
<circle cx="230.84" cy="111.53" r="1.20" fill="#a127cd"/>
<circle cx="230.38" cy="111.50" r="1.20" fill="#ad21c3"/>
<circle cx="231.43" cy="111.38" r="1.20" fill="#9f29d0"/>
<circle cx="231.39" cy="110.86" r="1.20" fill="#a028ce"/>
<circle cx="231.93" cy="111.23" r="1.20" fill="#a824c7"/>
<circle cx="232.16" cy="111.37" r="1.20" fill="#a028ce"/>
<circle cx="232.84" cy="110.94" r="1.20" fill="#a724c8"/>
<circle cx="233.17" cy="110.94" r="1.20" fill="#ae21c2"/>
<circle cx="233.71" cy="110.96" r="1.20" fill="#a426cb"/>
<circle cx="233.96" cy="110.81" r="1.20" fill="#a625c9"/>
<circle cx="234.47" cy="111.23" r="1.20" fill="#a625c9"/>
<circle cx="234.36" cy="110.92" r="1.20" fill="#af20c1"/>
<circle cx="235.44" cy="111.54" r="1.20" fill="#b020c0"/>
<circle cx="235.46" cy="111.53" r="1.20" fill="#a724c8"/>
<circle cx="236.08" cy="111.45" r="1.20" fill="#a625c9"/>
<circle cx="236.06" cy="111.18" r="1.20" fill="#a724c8"/>
<circle cx="237.27" cy="111.52" r="1.20" fill="#ad22c3"/>
<circle cx="237.24" cy="111.00" r="1.20" fill="#a625c9"/>
<circle cx="237.71" cy="111.28" r="1.20" fill="#a227cc"/>
<circle cx="237.56" cy="111.00" r="1.20" fill="#a326cb"/>
<circle cx="238.45" cy="110.88" r="1.20" fill="#a724c8"/>
<circle cx="238.56" cy="111.24" r="1.20" fill="#af20c1"/>
<circle cx="239.27" cy="111.11" r="1.20" fill="#b120c0"/>
<circle cx="239.11" cy="111.21" r="1.20" fill="#a526ca"/>
<circle cx="239.91" cy="111.51" r="1.20" fill="#ae21c2"/>
<circle cx="240.18" cy="111.45" r="1.20" fill="#b31fbe"/>
<circle cx="241.05" cy="111.16" r="1.20" fill="#a426cb"/>
<circle cx="241.27" cy="111.42" r="1.20" fill="#a525ca"/>
<circle cx="241.77" cy="111.00" r="1.20" fill="#b31ebd"/>
<circle cx="241.68" cy="110.91" r="1.20" fill="#b21fbe"/>
<circle cx="242.48" cy="110.90" r="1.20" fill="#a625c9"/>
<circle cx="242.40" cy="111.15" r="1.20" fill="#a924c7"/>
<circle cx="243.51" cy="111.51" r="1.20" fill="#a724c8"/>
<circle cx="243.12" cy="111.41" r="1.20" fill="#b020c1"/>
<circle cx="244.42" cy="110.89" r="1.20" fill="#b120c0"/>
<circle cx="244.07" cy="110.95" r="1.20" fill="#ac22c4"/>
<circle cx="245.21" cy="111.45" r="1.20" fill="#b31ebd"/>
<circle cx="244.85" cy="111.16" r="1.20" fill="#a924c7"/>
<circle cx="245.63" cy="111.47" r="1.20" fill="#a824c7"/>
<circle cx="246.05" cy="111.57" r="1.20" fill="#ad21c3"/>
<circle cx="246.66" cy="111.57" r="1.20" fill="#b21fbe"/>
<circle cx="246.77" cy="111.39" r="1.20" fill="#a824c7"/>
<circle cx="247.57" cy="111.36" r="1.20" fill="#ad22c3"/>
<circle cx="247.13" cy="111.08" r="1.20" fill="#b020c0"/>
<circle cx="248.12" cy="111.27" r="1.20" fill="#ae21c2"/>
<circle cx="248.32" cy="111.55" r="1.20" fill="#a824c7"/>
<circle cx="249.07" cy="111.45" r="1.20" fill="#a924c7"/>
<circle cx="248.98" cy="111.45" r="1.20" fill="#b31ebd"/>
<circle cx="249.73" cy="111.07" r="1.20" fill="#a923c6"/>
<circle cx="249.80" cy="111.46" r="1.20" fill="#b61dbb"/>
<circle cx="250.73" cy="111.20" r="1.20" fill="#af20c1"/>
<circle cx="250.47" cy="110.94" r="1.20" fill="#b120c0"/>
<circle cx="251.10" cy="111.16" r="1.20" fill="#bb1ab7"/>
<circle cx="251.30" cy="111.48" r="1.20" fill="#b71cba"/>
<circle cx="252.37" cy="111.60" r="1.20" fill="#b31ebd"/>
<circle cx="252.14" cy="110.93" r="1.20" fill="#b41ebd"/>
<circle cx="253.13" cy="110.80" r="1.20" fill="#be19b4"/>
<circle cx="253.25" cy="111.14" r="1.20" fill="#bf18b2"/>
<circle cx="253.58" cy="111.40" r="1.20" fill="#c317ad"/>
<circle cx="253.85" cy="111.53" r="1.20" fill="#c018b1"/>
<circle cx="254.66" cy="110.81" r="1.20" fill="#c615a9"/>
<circle cx="254.51" cy="111.35" r="1.20" fill="#c217af"/>
<circle cx="255.19" cy="111.18" r="1.20" fill="#cc13a2"/>
<circle cx="255.49" cy="110.89" r="1.20" fill="#c616aa"/>
<circle cx="256.44" cy="110.82" r="1.20" fill="#c317ae"/>
<circle cx="256.39" cy="111.27" r="1.20" fill="#cd12a0"/>
<circle cx="256.89" cy="111.25" r="1.20" fill="#c914a6"/>
<circle cx="256.77" cy="111.24" r="1.20" fill="#d31099"/>
<circle cx="257.83" cy="110.81" r="1.20" fill="#cb13a3"/>
<circle cx="257.96" cy="111.09" r="1.20" fill="#ce129f"/>
<circle cx="258.46" cy="111.54" r="1.20" fill="#d60f95"/>
<circle cx="258.38" cy="110.94" r="1.20" fill="#d0119c"/>
<circle cx="259.67" cy="111.17" r="1.20" fill="#da0d90"/>
<circle cx="259.14" cy="111.02" r="1.20" fill="#df0b89"/>
<circle cx="260.41" cy="111.16" r="1.20" fill="#dc0c8e"/>
<circle cx="260.47" cy="111.06" r="1.20" fill="#dc0c8e"/>
<circle cx="260.79" cy="111.19" r="1.20" fill="#e60980"/>
<circle cx="261.01" cy="111.46" r="1.20" fill="#e10a87"/>
<circle cx="261.91" cy="110.94" r="1.20" fill="#e50981"/>
<circle cx="261.68" cy="111.04" r="1.20" fill="#e8097c"/>
<circle cx="262.43" cy="111.20" r="1.20" fill="#e8097d"/>
<circle cx="262.83" cy="110.98" r="1.20" fill="#e7097e"/>
<circle cx="263.53" cy="111.04" r="1.20" fill="#ee0773"/>
<circle cx="263.69" cy="111.09" r="1.20" fill="#ed0876"/>
<circle cx="263.91" cy="111.44" r="1.20" fill="#ee0774"/>
<circle cx="264.27" cy="110.96" r="1.20" fill="#f1076f"/>
<circle cx="265.00" cy="111.59" r="1.20" fill="#f70666"/>
<circle cx="265.04" cy="110.94" r="1.20" fill="#f10770"/>
<circle cx="265.83" cy="111.44" r="1.20" fill="#fa0562"/>
<circle cx="266.03" cy="111.42" r="1.20" fill="#f60669"/>
<circle cx="266.64" cy="111.01" r="1.20" fill="#fa0562"/>
<circle cx="266.52" cy="111.24" r="1.20" fill="#f5066a"/>
<circle cx="267.16" cy="111.33" r="1.20" fill="#fb0660"/>
<circle cx="267.23" cy="111.57" r="1.20" fill="#f80565"/>
<circle cx="268.46" cy="111.47" r="1.20" fill="#f90564"/>
<circle cx="268.42" cy="111.37" r="1.20" fill="#fa0561"/>
<circle cx="269.11" cy="111.55" r="1.20" fill="#fa0562"/>
<circle cx="268.88" cy="110.90" r="1.20" fill="#fc0759"/>
<circle cx="269.58" cy="110.88" r="1.20" fill="#fa0561"/>
<circle cx="270.00" cy="110.96" r="1.20" fill="#fd0857"/>
<circle cx="270.32" cy="111.17" r="1.20" fill="#fb065f"/>
<circle cx="270.41" cy="110.95" r="1.20" fill="#fc075b"/>
<circle cx="271.23" cy="111.07" r="1.20" fill="#fd0857"/>
<circle cx="271.46" cy="110.81" r="1.20" fill="#fb065d"/>
<circle cx="272.27" cy="111.05" r="1.20" fill="#fb065e"/>
<circle cx="271.96" cy="111.08" r="1.20" fill="#fd0859"/>
<circle cx="272.98" cy="110.99" r="1.20" fill="#fb065d"/>
<circle cx="272.88" cy="111.50" r="1.20" fill="#fb065e"/>
<circle cx="273.54" cy="110.87" r="1.20" fill="#fd0858"/>
<circle cx="273.52" cy="111.04" r="1.20" fill="#fc075a"/>
<circle cx="274.55" cy="111.15" r="1.20" fill="#fe0954"/>
<circle cx="274.48" cy="110.93" r="1.20" fill="#fe0954"/>
<circle cx="275.23" cy="110.91" r="1.20" fill="#fc075c"/>
<circle cx="275.67" cy="111.33" r="1.20" fill="#fe0955"/>
<circle cx="275.95" cy="111.47" r="1.20" fill="#fc075b"/>
<circle cx="276.32" cy="111.46" r="1.20" fill="#fd0856"/>
<circle cx="276.81" cy="111.58" r="1.20" fill="#fc075a"/>
<circle cx="276.86" cy="111.29" r="1.20" fill="#fe0954"/>
<circle cx="277.61" cy="111.01" r="1.20" fill="#fd0856"/>
<circle cx="278.09" cy="111.59" r="1.20" fill="#fc0759"/>
<circle cx="278.81" cy="111.12" r="1.20" fill="#fd0858"/>
<circle cx="278.56" cy="110.84" r="1.20" fill="#fe0953"/>
<circle cx="279.52" cy="111.00" r="1.20" fill="#fc075a"/>
<circle cx="279.55" cy="111.58" r="1.20" fill="#fd0859"/>
<circle cx="280.49" cy="111.24" r="1.20" fill="#fd0858"/>
<circle cx="280.36" cy="111.41" r="1.20" fill="#fd0856"/>
<circle cx="281.04" cy="110.97" r="1.20" fill="#fe0954"/>
<circle cx="280.82" cy="111.09" r="1.20" fill="#ff0a51"/>
<circle cx="281.98" cy="111.33" r="1.20" fill="#ff0a50"/>
<circle cx="281.97" cy="111.28" r="1.20" fill="#fe0953"/>
<circle cx="282.38" cy="110.83" r="1.20" fill="#fd0857"/>
<circle cx="282.76" cy="111.59" r="1.20" fill="#fd0857"/>
<circle cx="283.69" cy="111.46" r="1.20" fill="#fd0858"/>
<circle cx="283.42" cy="111.01" r="1.20" fill="#ff0a51"/>
<circle cx="284.11" cy="111.12" r="1.20" fill="#fe0953"/>
<circle cx="284.08" cy="111.43" r="1.20" fill="#fe0953"/>
<circle cx="284.73" cy="111.25" r="1.20" fill="#fe0954"/>
<circle cx="285.26" cy="111.56" r="1.20" fill="#fd0858"/>
<circle cx="285.96" cy="111.30" r="1.20" fill="#fe0954"/>
<circle cx="285.57" cy="111.52" r="1.20" fill="#fe0952"/>
<circle cx="286.68" cy="111.57" r="1.20" fill="#fd0858"/>
<circle cx="286.53" cy="110.83" r="1.20" fill="#fd0856"/>
<circle cx="287.70" cy="111.11" r="1.20" fill="#ff0a50"/>
<circle cx="287.62" cy="111.23" r="1.20" fill="#ff0a50"/>
<circle cx="288.03" cy="110.86" r="1.20" fill="#fd0856"/>
<circle cx="287.96" cy="110.88" r="1.20" fill="#fd0858"/>
<circle cx="288.74" cy="110.89" r="1.20" fill="#fe0952"/>
<circle cx="288.88" cy="111.59" r="1.20" fill="#ff0a52"/>
<circle cx="290.06" cy="111.39" r="1.20" fill="#ff0a50"/>
<circle cx="290.07" cy="111.11" r="1.20" fill="#fd0856"/>
<circle cx="290.35" cy="111.57" r="1.20" fill="#fd0855"/>
<circle cx="290.89" cy="111.38" r="1.20" fill="#ff0a50"/>
<circle cx="291.12" cy="111.53" r="1.20" fill="#fd0857"/>
<circle cx="291.59" cy="110.83" r="1.20" fill="#ff0a50"/>
<circle cx="291.93" cy="110.93" r="1.20" fill="#fe0953"/>
<circle cx="292.00" cy="110.89" r="1.20" fill="#fe0954"/>
<circle cx="292.73" cy="111.26" r="1.20" fill="#ff0a50"/>
<circle cx="293.00" cy="111.25" r="1.20" fill="#fe0955"/>
<circle cx="293.78" cy="111.30" r="1.20" fill="#ff0a50"/>
<circle cx="293.81" cy="111.59" r="1.20" fill="#fe0953"/>
<circle cx="294.66" cy="111.38" r="1.20" fill="#fd0856"/>
<circle cx="294.80" cy="111.46" r="1.20" fill="#fd0856"/>
<circle cx="295.49" cy="111.13" r="1.20" fill="#fe0955"/>
<circle cx="295.23" cy="110.91" r="1.20" fill="#ff0a50"/>
<circle cx="296.39" cy="111.39" r="1.20" fill="#fe0955"/>
<circle cx="296.34" cy="111.01" r="1.20" fill="#ff0a51"/>
<circle cx="296.71" cy="111.53" r="1.20" fill="#fe0953"/>
<circle cx="297.12" cy="110.89" r="1.20" fill="#fe0955"/>
<circle cx="297.96" cy="111.36" r="1.20" fill="#ff0a50"/>
<circle cx="297.74" cy="111.31" r="1.20" fill="#ff0a50"/>
<circle cx="298.79" cy="111.43" r="1.20" fill="#ff0a52"/>
<circle cx="298.57" cy="111.52" r="1.20" fill="#fe0953"/>
<circle cx="299.42" cy="110.97" r="1.20" fill="#ff0a51"/>
<circle cx="299.24" cy="111.50" r="1.20" fill="#ff0a50"/>
<circle cx="264.00" cy="110.87" r="1.10" fill="#fb065e"/>
<circle cx="264.70" cy="111.90" r="1.10" fill="#fb065e"/>
<circle cx="265.40" cy="111.92" r="1.10" fill="#fb065e"/>
<circle cx="266.10" cy="112.11" r="1.10" fill="#fb065e"/>
<circle cx="266.80" cy="111.77" r="1.10" fill="#fb065e"/>
<circle cx="267.50" cy="110.54" r="1.10" fill="#fb065e"/>
<circle cx="268.20" cy="111.53" r="1.10" fill="#fb065e"/>
<circle cx="268.90" cy="110.64" r="1.10" fill="#fb065e"/>
<circle cx="269.60" cy="111.14" r="1.10" fill="#fb065e"/>
<circle cx="270.30" cy="110.14" r="1.10" fill="#fb065e"/>
<circle cx="166.00" cy="124.52" r="1.25" fill="#4a8cf2"/>
<circle cx="165.25" cy="132.69" r="1.25" fill="#4a8cf2"/>
<circle cx="165.77" cy="135.41" r="1.25" fill="#4a8cf2"/>
<circle cx="164.95" cy="138.24" r="1.25" fill="#4a8cf2"/>
<circle cx="162.61" cy="129.57" r="1.25" fill="#4a8cf2"/>
<circle cx="165.98" cy="127.56" r="1.25" fill="#4a8cf2"/>
<circle cx="164.46" cy="140.47" r="1.25" fill="#5a8af0"/>
<circle cx="164.49" cy="135.83" r="1.25" fill="#5a8af0"/>
<circle cx="165.77" cy="127.14" r="1.25" fill="#4a8cf2"/>
<circle cx="165.45" cy="133.40" r="1.25" fill="#4a8cf2"/>
<circle cx="164.46" cy="140.83" r="1.25" fill="#5a8af0"/>
<circle cx="165.84" cy="140.90" r="1.25" fill="#4a8cf2"/>
<circle cx="165.38" cy="137.78" r="1.25" fill="#5a8af0"/>
<circle cx="162.97" cy="136.21" r="1.25" fill="#4a8cf2"/>
<circle cx="165.18" cy="125.56" r="1.25" fill="#4a8cf2"/>
<circle cx="166.24" cy="132.55" r="1.25" fill="#4a8cf2"/>
<circle cx="162.44" cy="130.23" r="1.25" fill="#4a8cf2"/>
<circle cx="162.05" cy="130.66" r="1.25" fill="#4a8cf2"/>
<circle cx="164.51" cy="135.80" r="1.25" fill="#4a8cf2"/>
<circle cx="161.91" cy="131.19" r="1.25" fill="#4a8cf2"/>
<circle cx="162.59" cy="131.57" r="1.25" fill="#4a8cf2"/>
<circle cx="165.85" cy="126.29" r="1.25" fill="#5a8af0"/>
<circle cx="165.84" cy="138.45" r="1.25" fill="#4a8cf2"/>
<circle cx="163.82" cy="139.10" r="1.25" fill="#4a8cf2"/>
<circle cx="166.99" cy="129.96" r="1.25" fill="#4a8cf2"/>
<circle cx="163.12" cy="133.81" r="1.25" fill="#4a8cf2"/>
<circle cx="165.10" cy="137.34" r="1.25" fill="#4a8cf2"/>
<circle cx="164.10" cy="130.34" r="1.25" fill="#4a8cf2"/>
<circle cx="165.63" cy="124.84" r="1.25" fill="#4a8cf2"/>
<circle cx="165.25" cy="129.14" r="1.25" fill="#5a8af0"/>
<circle cx="162.92" cy="128.81" r="1.25" fill="#5a8af0"/>
<circle cx="165.95" cy="135.74" r="1.25" fill="#4a8cf2"/>
<circle cx="162.75" cy="136.27" r="1.25" fill="#4a8cf2"/>
<circle cx="164.47" cy="139.48" r="1.25" fill="#4a8cf2"/>
<circle cx="164.82" cy="136.42" r="1.25" fill="#4a8cf2"/>
<circle cx="164.36" cy="134.11" r="1.25" fill="#4a8cf2"/>
<circle cx="164.92" cy="131.92" r="1.25" fill="#4a8cf2"/>
<circle cx="163.01" cy="130.80" r="1.25" fill="#4a8cf2"/>
<circle cx="164.69" cy="127.24" r="1.25" fill="#4a8cf2"/>
<circle cx="164.10" cy="126.95" r="1.25" fill="#4a8cf2"/>
<circle cx="166.83" cy="134.85" r="1.25" fill="#4a8cf2"/>
<circle cx="167.28" cy="133.89" r="1.25" fill="#5a8af0"/>
<circle cx="164.34" cy="133.16" r="1.25" fill="#5a8af0"/>
<circle cx="166.28" cy="130.39" r="1.25" fill="#4a8cf2"/>
<circle cx="164.19" cy="127.23" r="1.25" fill="#4a8cf2"/>
<circle cx="163.10" cy="130.58" r="1.25" fill="#4a8cf2"/>
<circle cx="166.12" cy="125.41" r="1.25" fill="#5a8af0"/>
<circle cx="165.39" cy="137.76" r="1.25" fill="#4a8cf2"/>
<circle cx="165.60" cy="132.14" r="1.25" fill="#4a8cf2"/>
<circle cx="164.23" cy="139.25" r="1.25" fill="#4a8cf2"/>
<circle cx="165.14" cy="137.55" r="1.25" fill="#5a8af0"/>
<circle cx="164.26" cy="136.91" r="1.25" fill="#4a8cf2"/>
<circle cx="164.90" cy="125.20" r="1.25" fill="#5a8af0"/>
<circle cx="166.16" cy="125.40" r="1.25" fill="#5a8af0"/>
<circle cx="163.51" cy="137.56" r="1.25" fill="#5a8af0"/>
<circle cx="164.93" cy="141.01" r="1.25" fill="#4a8cf2"/>
<circle cx="164.17" cy="126.95" r="1.25" fill="#4a8cf2"/>
<circle cx="164.41" cy="125.50" r="1.25" fill="#4a8cf2"/>
<circle cx="166.87" cy="137.10" r="1.25" fill="#4a8cf2"/>
<circle cx="166.14" cy="139.90" r="1.25" fill="#5a8af0"/>
<circle cx="163.70" cy="132.84" r="1.25" fill="#4a8cf2"/>
<circle cx="163.61" cy="129.23" r="1.25" fill="#4a8cf2"/>
<circle cx="162.09" cy="131.47" r="1.25" fill="#4a8cf2"/>
<circle cx="161.80" cy="131.68" r="1.25" fill="#5a8af0"/>
<circle cx="163.62" cy="136.51" r="1.25" fill="#5a8af0"/>
<circle cx="165.79" cy="140.96" r="1.25" fill="#4a8cf2"/>
<circle cx="165.75" cy="134.68" r="1.25" fill="#5a8af0"/>
<circle cx="163.25" cy="131.07" r="1.25" fill="#4a8cf2"/>
<circle cx="165.97" cy="124.95" r="1.25" fill="#4a8cf2"/>
<circle cx="164.79" cy="133.36" r="1.25" fill="#5a8af0"/>
<circle cx="166.04" cy="124.80" r="1.25" fill="#4a8cf2"/>
<circle cx="164.06" cy="132.83" r="1.25" fill="#4a8cf2"/>
<circle cx="164.97" cy="130.69" r="1.25" fill="#4a8cf2"/>
<circle cx="162.89" cy="128.05" r="1.25" fill="#4a8cf2"/>
<circle cx="161.73" cy="133.17" r="1.25" fill="#4a8cf2"/>
<circle cx="163.56" cy="139.31" r="1.25" fill="#4a8cf2"/>
<circle cx="165.54" cy="130.28" r="1.25" fill="#4a8cf2"/>
<circle cx="164.04" cy="133.72" r="1.25" fill="#4a8cf2"/>
<circle cx="165.67" cy="124.92" r="1.25" fill="#5a8af0"/>
<circle cx="164.96" cy="141.33" r="1.25" fill="#4a8cf2"/>
<circle cx="165.72" cy="128.62" r="1.25" fill="#5a8af0"/>
<circle cx="163.91" cy="127.30" r="1.25" fill="#5a8af0"/>
<circle cx="162.77" cy="134.46" r="1.25" fill="#4a8cf2"/>
<circle cx="165.70" cy="131.61" r="1.25" fill="#5a8af0"/>
<circle cx="163.51" cy="138.10" r="1.25" fill="#4a8cf2"/>
<circle cx="165.65" cy="135.39" r="1.25" fill="#4a8cf2"/>
<circle cx="166.36" cy="133.10" r="1.25" fill="#5a8af0"/>
<circle cx="165.14" cy="139.01" r="1.25" fill="#4a8cf2"/>
<circle cx="165.72" cy="134.95" r="1.25" fill="#4a8cf2"/>
<circle cx="164.21" cy="136.97" r="1.25" fill="#5a8af0"/>
<circle cx="165.98" cy="128.58" r="1.25" fill="#5a8af0"/>
<circle cx="165.44" cy="137.57" r="1.25" fill="#5a8af0"/>
<circle cx="164.87" cy="125.07" r="1.25" fill="#5a8af0"/>
<circle cx="163.55" cy="133.17" r="1.25" fill="#4a8cf2"/>
<circle cx="162.52" cy="129.27" r="1.25" fill="#5a8af0"/>
<circle cx="165.71" cy="124.68" r="1.25" fill="#4a8cf2"/>
<circle cx="164.79" cy="126.71" r="1.25" fill="#4a8cf2"/>
<circle cx="166.22" cy="125.01" r="1.25" fill="#5a8af0"/>
<circle cx="165.72" cy="135.51" r="1.25" fill="#4a8cf2"/>
<circle cx="164.68" cy="124.89" r="1.25" fill="#4a8cf2"/>
<circle cx="164.64" cy="137.31" r="1.25" fill="#4a8cf2"/>
<circle cx="164.31" cy="125.45" r="1.25" fill="#4a8cf2"/>
<circle cx="164.43" cy="128.81" r="1.25" fill="#4a8cf2"/>
<circle cx="166.77" cy="128.81" r="1.25" fill="#4a8cf2"/>
<circle cx="165.17" cy="140.86" r="1.25" fill="#4a8cf2"/>
<circle cx="165.05" cy="141.15" r="1.25" fill="#5a8af0"/>
<circle cx="163.80" cy="137.57" r="1.25" fill="#4a8cf2"/>
<circle cx="162.67" cy="130.50" r="1.25" fill="#4a8cf2"/>
<circle cx="166.08" cy="129.17" r="1.25" fill="#5a8af0"/>
<circle cx="165.52" cy="124.32" r="1.25" fill="#4a8cf2"/>
<circle cx="166.17" cy="128.96" r="1.25" fill="#4a8cf2"/>
<circle cx="164.00" cy="125.51" r="1.25" fill="#4a8cf2"/>
<circle cx="165.34" cy="140.87" r="1.25" fill="#5a8af0"/>
<circle cx="163.72" cy="127.94" r="1.25" fill="#5a8af0"/>
<circle cx="165.55" cy="129.96" r="1.25" fill="#4a8cf2"/>
<circle cx="165.72" cy="131.21" r="1.25" fill="#4a8cf2"/>
<circle cx="165.95" cy="141.13" r="1.25" fill="#5a8af0"/>
<circle cx="165.26" cy="130.14" r="1.25" fill="#4a8cf2"/>
<circle cx="165.52" cy="140.31" r="1.25" fill="#4a8cf2"/>
<circle cx="165.88" cy="138.09" r="1.25" fill="#5a8af0"/>
<circle cx="165.27" cy="141.23" r="1.25" fill="#4a8cf2"/>
<circle cx="163.47" cy="126.62" r="1.25" fill="#4a8cf2"/>
<circle cx="162.66" cy="136.98" r="1.25" fill="#4a8cf2"/>
<circle cx="163.16" cy="135.70" r="1.25" fill="#4a8cf2"/>
<circle cx="164.90" cy="135.55" r="1.25" fill="#4a8cf2"/>
<circle cx="162.46" cy="134.77" r="1.25" fill="#4a8cf2"/>
<circle cx="166.09" cy="139.07" r="1.25" fill="#5a8af0"/>
<circle cx="164.55" cy="125.94" r="1.25" fill="#4a8cf2"/>
<circle cx="162.88" cy="129.87" r="1.25" fill="#4a8cf2"/>
<circle cx="166.59" cy="138.09" r="1.25" fill="#5a8af0"/>
<circle cx="163.61" cy="132.44" r="1.25" fill="#4a8cf2"/>
<circle cx="165.53" cy="134.89" r="1.25" fill="#4a8cf2"/>
<circle cx="162.69" cy="134.80" r="1.25" fill="#4a8cf2"/>
<circle cx="163.70" cy="137.89" r="1.25" fill="#5a8af0"/>
<circle cx="164.48" cy="140.42" r="1.25" fill="#4a8cf2"/>
<circle cx="163.35" cy="134.00" r="1.25" fill="#4a8cf2"/>
<circle cx="162.30" cy="133.44" r="1.25" fill="#4a8cf2"/>
<circle cx="165.43" cy="127.41" r="1.25" fill="#5a8af0"/>
<circle cx="166.35" cy="126.48" r="1.25" fill="#4a8cf2"/>
<circle cx="165.42" cy="135.54" r="1.25" fill="#4a8cf2"/>
<circle cx="165.57" cy="125.37" r="1.25" fill="#4a8cf2"/>
<circle cx="164.23" cy="139.36" r="1.25" fill="#5a8af0"/>
<circle cx="165.75" cy="136.77" r="1.25" fill="#4a8cf2"/>
<circle cx="166.76" cy="128.89" r="1.25" fill="#4a8cf2"/>
<circle cx="166.36" cy="129.19" r="1.25" fill="#5a8af0"/>
<circle cx="161.75" cy="131.83" r="1.25" fill="#4a8cf2"/>
<circle cx="166.38" cy="139.26" r="1.25" fill="#4a8cf2"/>
<circle cx="165.86" cy="138.26" r="1.25" fill="#5a8af0"/>
<circle cx="165.49" cy="138.49" r="1.25" fill="#4a8cf2"/>
<circle cx="165.55" cy="131.22" r="1.25" fill="#4a8cf2"/>
<circle cx="167.50" cy="132.86" r="1.20" fill="#7148e6"/>
<circle cx="167.50" cy="132.63" r="1.20" fill="#7049e7"/>
<circle cx="168.20" cy="132.46" r="1.20" fill="#7446e5"/>
<circle cx="168.20" cy="132.45" r="1.20" fill="#7644e4"/>
<circle cx="168.90" cy="132.52" r="1.20" fill="#8837dd"/>
<circle cx="168.90" cy="132.83" r="1.20" fill="#7645e5"/>
<circle cx="169.60" cy="132.54" r="1.20" fill="#8936dc"/>
<circle cx="169.60" cy="132.90" r="1.20" fill="#7e3fe1"/>
<circle cx="170.30" cy="132.41" r="1.20" fill="#823cdf"/>
<circle cx="170.30" cy="132.66" r="1.20" fill="#803de0"/>
<circle cx="171.00" cy="133.17" r="1.20" fill="#8e32da"/>
<circle cx="171.00" cy="133.02" r="1.20" fill="#8936dc"/>
<circle cx="171.70" cy="133.08" r="1.20" fill="#9230d9"/>
<circle cx="171.70" cy="132.86" r="1.20" fill="#8837dd"/>
<circle cx="172.40" cy="132.62" r="1.20" fill="#8d33db"/>
<circle cx="172.40" cy="132.57" r="1.20" fill="#8639de"/>
<circle cx="173.10" cy="133.05" r="1.20" fill="#8738dd"/>
<circle cx="173.10" cy="132.64" r="1.20" fill="#982cd5"/>
<circle cx="173.80" cy="132.96" r="1.20" fill="#942fd8"/>
<circle cx="173.80" cy="132.46" r="1.20" fill="#8837dd"/>
<circle cx="174.50" cy="132.45" r="1.20" fill="#8d34db"/>
<circle cx="174.50" cy="132.54" r="1.20" fill="#8b35db"/>
<circle cx="175.20" cy="132.47" r="1.20" fill="#a028ce"/>
<circle cx="175.20" cy="133.17" r="1.20" fill="#9b2bd3"/>
<circle cx="175.90" cy="132.98" r="1.20" fill="#962dd7"/>
<circle cx="175.90" cy="132.75" r="1.20" fill="#972cd6"/>
<circle cx="176.60" cy="132.93" r="1.20" fill="#972cd6"/>
<circle cx="176.60" cy="132.62" r="1.20" fill="#952ed7"/>
<circle cx="177.30" cy="132.91" r="1.20" fill="#aa23c6"/>
<circle cx="177.30" cy="132.92" r="1.20" fill="#992cd5"/>
<circle cx="178.00" cy="132.58" r="1.20" fill="#a625c9"/>
<circle cx="178.00" cy="132.84" r="1.20" fill="#a128ce"/>
<circle cx="178.70" cy="132.40" r="1.20" fill="#9e29d0"/>
<circle cx="178.70" cy="132.59" r="1.20" fill="#a824c7"/>
<circle cx="179.40" cy="132.99" r="1.20" fill="#b020c0"/>
<circle cx="179.40" cy="133.04" r="1.20" fill="#a426cb"/>
<circle cx="180.10" cy="133.07" r="1.20" fill="#a625c9"/>
<circle cx="180.10" cy="132.61" r="1.20" fill="#a724c8"/>
<circle cx="180.80" cy="132.62" r="1.20" fill="#ae21c2"/>
<circle cx="180.80" cy="132.95" r="1.20" fill="#a924c7"/>
<circle cx="181.50" cy="132.57" r="1.20" fill="#b41ebc"/>
<circle cx="181.50" cy="132.74" r="1.20" fill="#bc1ab6"/>
<circle cx="182.20" cy="132.43" r="1.20" fill="#ab22c5"/>
<circle cx="182.20" cy="132.79" r="1.20" fill="#ac22c4"/>
<circle cx="182.90" cy="132.98" r="1.20" fill="#b51ebc"/>
<circle cx="182.90" cy="132.81" r="1.20" fill="#b81cb9"/>
<circle cx="183.60" cy="132.94" r="1.20" fill="#b71cba"/>
<circle cx="183.60" cy="132.62" r="1.20" fill="#bb1ab6"/>
<circle cx="184.30" cy="132.50" r="1.20" fill="#b61dbb"/>
<circle cx="184.30" cy="132.89" r="1.20" fill="#b71dba"/>
<circle cx="185.00" cy="132.97" r="1.20" fill="#c018b1"/>
<circle cx="185.00" cy="133.00" r="1.20" fill="#bd19b4"/>
<circle cx="185.70" cy="132.66" r="1.20" fill="#bc1ab6"/>
<circle cx="185.70" cy="132.95" r="1.20" fill="#c516ab"/>
<circle cx="186.40" cy="133.08" r="1.20" fill="#c317ae"/>
<circle cx="186.40" cy="132.98" r="1.20" fill="#b61dbb"/>
<circle cx="187.10" cy="132.72" r="1.20" fill="#cc13a3"/>
<circle cx="187.10" cy="132.97" r="1.20" fill="#c715a9"/>
<circle cx="187.80" cy="133.10" r="1.20" fill="#c317ae"/>
<circle cx="187.80" cy="132.43" r="1.20" fill="#c914a5"/>
<circle cx="188.50" cy="132.74" r="1.20" fill="#c815a7"/>
<circle cx="188.50" cy="132.48" r="1.20" fill="#c416ac"/>
<circle cx="189.20" cy="133.01" r="1.20" fill="#d50f96"/>
<circle cx="189.20" cy="132.44" r="1.20" fill="#cf129f"/>
<circle cx="189.90" cy="132.62" r="1.20" fill="#d2109a"/>
<circle cx="189.90" cy="132.57" r="1.20" fill="#d80e93"/>
<circle cx="190.60" cy="132.69" r="1.20" fill="#d60f95"/>
<circle cx="190.60" cy="132.74" r="1.20" fill="#d70e94"/>
<circle cx="191.30" cy="132.94" r="1.20" fill="#d31099"/>
<circle cx="191.30" cy="132.41" r="1.20" fill="#cd12a0"/>
<circle cx="192.00" cy="132.62" r="1.20" fill="#df0b8a"/>
<circle cx="192.00" cy="132.83" r="1.20" fill="#d90d91"/>
<circle cx="192.70" cy="132.44" r="1.20" fill="#e00a88"/>
<circle cx="192.70" cy="132.82" r="1.20" fill="#e50980"/>
<circle cx="193.40" cy="132.99" r="1.20" fill="#e8097d"/>
<circle cx="193.40" cy="132.97" r="1.20" fill="#e30a84"/>
<circle cx="194.10" cy="132.76" r="1.20" fill="#f2076d"/>
<circle cx="194.10" cy="133.07" r="1.20" fill="#f60668"/>
<circle cx="194.80" cy="132.97" r="1.20" fill="#fa0563"/>
<circle cx="194.80" cy="132.75" r="1.20" fill="#f60667"/>
<circle cx="195.50" cy="132.66" r="1.20" fill="#fd0858"/>
<circle cx="195.50" cy="132.69" r="1.20" fill="#fa0562"/>
<circle cx="196.20" cy="133.05" r="1.20" fill="#fd0859"/>
<circle cx="196.20" cy="132.75" r="1.20" fill="#fe0953"/>
<circle cx="196.90" cy="132.45" r="1.20" fill="#fb065e"/>
<circle cx="196.90" cy="132.84" r="1.20" fill="#fb065f"/>
<circle cx="197.60" cy="133.11" r="1.20" fill="#ff0a51"/>
<circle cx="197.60" cy="132.63" r="1.20" fill="#fe0953"/>
<circle cx="198.30" cy="132.77" r="1.20" fill="#fd0857"/>
<circle cx="198.30" cy="132.74" r="1.20" fill="#ff0a52"/>
<circle cx="199.00" cy="132.66" r="1.20" fill="#ff0a51"/>
<circle cx="199.00" cy="132.67" r="1.20" fill="#fc075a"/>
<circle cx="199.70" cy="133.20" r="1.20" fill="#fc075c"/>
<circle cx="199.70" cy="132.51" r="1.20" fill="#fe0955"/>
<circle cx="200.40" cy="133.15" r="1.20" fill="#ff0a51"/>
<circle cx="200.40" cy="132.97" r="1.20" fill="#fb065d"/>
<circle cx="201.10" cy="132.45" r="1.20" fill="#ff0a51"/>
<circle cx="201.10" cy="133.03" r="1.20" fill="#ff0a50"/>
<circle cx="201.80" cy="132.69" r="1.20" fill="#fe0954"/>
<circle cx="201.80" cy="132.62" r="1.20" fill="#fc075b"/>
<circle cx="202.50" cy="132.95" r="1.20" fill="#ff0a51"/>
<circle cx="202.50" cy="132.45" r="1.20" fill="#fe0953"/>
<circle cx="203.20" cy="133.08" r="1.20" fill="#ff0a50"/>
<circle cx="203.20" cy="132.64" r="1.20" fill="#fc075b"/>
<circle cx="203.90" cy="132.59" r="1.20" fill="#fd0858"/>
<circle cx="203.90" cy="132.70" r="1.20" fill="#fe0953"/>
<circle cx="204.60" cy="132.78" r="1.20" fill="#fd0858"/>
<circle cx="204.60" cy="132.67" r="1.20" fill="#fd0857"/>
<circle cx="205.30" cy="133.08" r="1.20" fill="#ff0a50"/>
<circle cx="205.30" cy="133.15" r="1.20" fill="#fe0954"/>
<circle cx="206.00" cy="133.04" r="1.20" fill="#fd0856"/>
<circle cx="206.00" cy="132.68" r="1.20" fill="#fe0953"/>
<circle cx="206.70" cy="132.64" r="1.20" fill="#fe0955"/>
<circle cx="206.70" cy="133.13" r="1.20" fill="#ff0a52"/>
<circle cx="207.40" cy="132.97" r="1.20" fill="#fe0955"/>
<circle cx="207.40" cy="132.96" r="1.20" fill="#ff0a50"/>
<circle cx="175.00" cy="133.61" r="1.15" fill="#b120c0"/>
<circle cx="175.80" cy="132.34" r="1.15" fill="#b120c0"/>
<circle cx="176.60" cy="133.70" r="1.15" fill="#b120c0"/>
<circle cx="177.40" cy="133.50" r="1.15" fill="#b120c0"/>
<circle cx="178.20" cy="132.11" r="1.15" fill="#b120c0"/>
<circle cx="179.00" cy="132.61" r="1.15" fill="#b120c0"/>
<circle cx="179.80" cy="132.56" r="1.15" fill="#b120c0"/>
<circle cx="180.60" cy="133.80" r="1.15" fill="#b120c0"/>
<circle cx="181.40" cy="133.16" r="1.15" fill="#b120c0"/>
<circle cx="193.00" cy="132.09" r="1.15" fill="#fc0759"/>
<circle cx="193.80" cy="132.78" r="1.15" fill="#fc0759"/>
<circle cx="194.60" cy="133.33" r="1.15" fill="#fc0759"/>
<circle cx="195.40" cy="131.92" r="1.15" fill="#fc0759"/>
<circle cx="196.20" cy="133.27" r="1.15" fill="#fc0759"/>
<circle cx="197.00" cy="133.15" r="1.15" fill="#fc0759"/>
<circle cx="197.80" cy="133.31" r="1.15" fill="#fc0759"/>
<circle cx="215.30" cy="132.80" r="1.20" fill="#ff0a50"/>
<circle cx="218.60" cy="132.80" r="1.20" fill="#ff0a50"/>
<rect x="190.10" y="99.50" width="52.60" height="6.70" fill="#ececec" stroke="#8c8c8c" stroke-width="0.7"/>
<text x="216.60" y="105.00" font-size="7.17" text-anchor="middle" fill="#1a1a1a" textLength="51.00" lengthAdjust="spacingAndGlyphs">Importance: 0.879</text>
<rect x="190.10" y="121.20" width="52.60" height="6.70" fill="#ececec" stroke="#8c8c8c" stroke-width="0.7"/>
<text x="216.60" y="126.70" font-size="7.17" text-anchor="middle" fill="#1a1a1a" textLength="51.00" lengthAdjust="spacingAndGlyphs">Importance: 0.121</text>
<defs><linearGradient id="cba" x1="0" y1="1" x2="0" y2="0"><stop offset="0.00" stop-color="#2d7af8"/><stop offset="0.10" stop-color="#416bf4"/><stop offset="0.20" stop-color="#555cf0"/><stop offset="0.30" stop-color="#6d4be8"/><stop offset="0.40" stop-color="#8837dd"/><stop offset="0.50" stop-color="#a326cb"/><stop offset="0.60" stop-color="#be19b4"/><stop offset="0.70" stop-color="#d50f96"/><stop offset="0.80" stop-color="#e9087b"/><stop offset="0.90" stop-color="#fa0562"/><stop offset="1.00" stop-color="#ff0a50"/></linearGradient></defs>
<rect x="319.90" y="89.00" width="1.30" height="65.40" fill="url(#cba)"/>
<text x="323.40" y="92.20" font-size="7.67" text-anchor="start" fill="#333333" textLength="16.78" lengthAdjust="spacingAndGlyphs">High</text>
<text x="323.60" y="158.00" font-size="7.67" text-anchor="start" fill="#333333" textLength="14.38" lengthAdjust="spacingAndGlyphs">Low</text>
<text x="343.80" y="122.10" font-size="7.77" text-anchor="middle" fill="#333333" textLength="50.53" lengthAdjust="spacingAndGlyphs" transform="rotate(-90 343.80 122.10)" stroke="#333333" stroke-width="0.22">Feature value</text>
<line x1="418.20" y1="10.20" x2="418.20" y2="189.50" stroke="#e0e0e0" stroke-width="0.75" stroke-dasharray="2.8 1.0"/>
<line x1="455.23" y1="10.20" x2="455.23" y2="189.50" stroke="#e0e0e0" stroke-width="0.75" stroke-dasharray="2.8 1.0"/>
<line x1="492.26" y1="10.20" x2="492.26" y2="189.50" stroke="#e0e0e0" stroke-width="0.75" stroke-dasharray="2.8 1.0"/>
<line x1="529.29" y1="10.20" x2="529.29" y2="189.50" stroke="#e0e0e0" stroke-width="0.75" stroke-dasharray="2.8 1.0"/>
<line x1="566.32" y1="10.20" x2="566.32" y2="189.50" stroke="#e0e0e0" stroke-width="0.75" stroke-dasharray="2.8 1.0"/>
<line x1="603.35" y1="10.20" x2="603.35" y2="189.50" stroke="#e0e0e0" stroke-width="0.75" stroke-dasharray="2.8 1.0"/>
<line x1="640.38" y1="10.20" x2="640.38" y2="189.50" stroke="#e0e0e0" stroke-width="0.75" stroke-dasharray="2.8 1.0"/>
<line x1="411.00" y1="168.40" x2="647.90" y2="168.40" stroke="#e0e0e0" stroke-width="0.75" stroke-dasharray="2.8 1.0"/>
<line x1="411.00" y1="137.60" x2="647.90" y2="137.60" stroke="#e0e0e0" stroke-width="0.75" stroke-dasharray="2.8 1.0"/>
<line x1="411.00" y1="106.80" x2="647.90" y2="106.80" stroke="#e0e0e0" stroke-width="0.75" stroke-dasharray="2.8 1.0"/>
<line x1="411.00" y1="76.00" x2="647.90" y2="76.00" stroke="#e0e0e0" stroke-width="0.75" stroke-dasharray="2.8 1.0"/>
<line x1="411.00" y1="45.20" x2="647.90" y2="45.20" stroke="#e0e0e0" stroke-width="0.75" stroke-dasharray="2.8 1.0"/>
<line x1="411.00" y1="14.40" x2="647.90" y2="14.40" stroke="#e0e0e0" stroke-width="0.75" stroke-dasharray="2.8 1.0"/>
<g id="scat"></g>
<circle cx="507.41" cy="112.85" r="1.30" fill="#962dd7"/>
<circle cx="517.77" cy="101.63" r="1.30" fill="#4a8cf2"/>
<circle cx="518.50" cy="96.79" r="1.30" fill="#833bdf"/>
<circle cx="596.20" cy="58.80" r="1.30" fill="#fc075c"/>
<circle cx="534.80" cy="81.60" r="1.30" fill="#bc1ab6"/>
<circle cx="617.20" cy="38.40" r="1.30" fill="#dd0c8c"/>
<circle cx="539.02" cy="74.90" r="1.30" fill="#478af4"/>
<circle cx="425.66" cy="177.06" r="1.30" fill="#4a8cf2"/>
<circle cx="524.53" cy="93.24" r="1.30" fill="#478af4"/>
<circle cx="520.49" cy="93.28" r="1.30" fill="#c317ae"/>
<circle cx="420.93" cy="177.14" r="1.30" fill="#5090f0"/>
<circle cx="477.28" cy="154.80" r="1.30" fill="#833bdf"/>
<circle cx="436.54" cy="180.72" r="1.30" fill="#5090f0"/>
<circle cx="418.48" cy="174.61" r="1.30" fill="#4a8cf2"/>
<circle cx="544.79" cy="69.00" r="1.30" fill="#833bdf"/>
<circle cx="616.60" cy="52.60" r="1.30" fill="#fc075a"/>
<circle cx="609.20" cy="40.90" r="1.30" fill="#df0b8a"/>
<circle cx="517.85" cy="96.66" r="1.30" fill="#a924c7"/>
<circle cx="425.18" cy="178.61" r="1.30" fill="#478af4"/>
<circle cx="469.15" cy="167.59" r="1.30" fill="#4a8cf2"/>
<circle cx="606.70" cy="44.00" r="1.30" fill="#e30a85"/>
<circle cx="561.70" cy="64.30" r="1.30" fill="#ba1bb8"/>
<circle cx="438.68" cy="180.23" r="1.30" fill="#4a8cf2"/>
<circle cx="460.30" cy="174.38" r="1.30" fill="#478af4"/>
<circle cx="479.37" cy="155.06" r="1.30" fill="#4a8cf2"/>
<circle cx="472.95" cy="162.60" r="1.30" fill="#5090f0"/>
<circle cx="473.97" cy="162.98" r="1.30" fill="#5090f0"/>
<circle cx="542.04" cy="71.62" r="1.30" fill="#833bdf"/>
<circle cx="547.58" cy="66.92" r="1.30" fill="#4a8cf2"/>
<circle cx="524.22" cy="86.74" r="1.30" fill="#b120c0"/>
<circle cx="545.42" cy="67.31" r="1.30" fill="#478af4"/>
<circle cx="530.30" cy="95.30" r="1.30" fill="#fc075a"/>
<circle cx="423.48" cy="179.19" r="1.30" fill="#5090f0"/>
<circle cx="445.97" cy="181.08" r="1.30" fill="#962dd7"/>
<circle cx="556.24" cy="58.77" r="1.30" fill="#5090f0"/>
<circle cx="506.07" cy="113.00" r="1.30" fill="#833bdf"/>
<circle cx="582.60" cy="61.60" r="1.30" fill="#fc075a"/>
<circle cx="499.96" cy="122.09" r="1.30" fill="#962dd7"/>
<circle cx="603.70" cy="32.20" r="1.30" fill="#8c34db"/>
<circle cx="563.80" cy="74.80" r="1.30" fill="#fd0858"/>
<circle cx="544.67" cy="70.05" r="1.30" fill="#a924c7"/>
<circle cx="422.23" cy="179.88" r="1.30" fill="#962dd7"/>
<circle cx="531.78" cy="80.32" r="1.30" fill="#5090f0"/>
<circle cx="581.30" cy="44.00" r="1.30" fill="#4a8cf2"/>
<circle cx="519.80" cy="101.10" r="1.30" fill="#dc0c8d"/>
<circle cx="477.77" cy="158.64" r="1.30" fill="#4a8cf2"/>
<circle cx="427.28" cy="177.55" r="1.30" fill="#4a8cf2"/>
<circle cx="550.34" cy="62.70" r="1.30" fill="#4a8cf2"/>
<circle cx="516.59" cy="101.06" r="1.30" fill="#5090f0"/>
<circle cx="549.14" cy="65.09" r="1.30" fill="#4a8cf2"/>
<circle cx="542.92" cy="71.49" r="1.30" fill="#4a8cf2"/>
<circle cx="446.51" cy="179.41" r="1.30" fill="#4a8cf2"/>
<circle cx="529.25" cy="87.00" r="1.30" fill="#a924c7"/>
<circle cx="541.85" cy="70.46" r="1.30" fill="#4a8cf2"/>
<circle cx="433.56" cy="178.56" r="1.30" fill="#5090f0"/>
<circle cx="556.20" cy="60.26" r="1.30" fill="#5090f0"/>
<circle cx="472.18" cy="163.35" r="1.30" fill="#5090f0"/>
<circle cx="534.31" cy="78.83" r="1.30" fill="#478af4"/>
<circle cx="640.70" cy="26.10" r="1.30" fill="#9230d9"/>
<circle cx="504.10" cy="124.90" r="1.30" fill="#fd0858"/>
<circle cx="522.10" cy="90.73" r="1.30" fill="#962dd7"/>
<circle cx="419.61" cy="176.10" r="1.30" fill="#4a8cf2"/>
<circle cx="549.27" cy="65.15" r="1.30" fill="#4a8cf2"/>
<circle cx="442.58" cy="181.58" r="1.30" fill="#b120c0"/>
<circle cx="557.98" cy="60.23" r="1.30" fill="#478af4"/>
<circle cx="583.30" cy="51.50" r="1.30" fill="#e10a87"/>
<circle cx="427.01" cy="178.47" r="1.30" fill="#4a8cf2"/>
<circle cx="457.91" cy="175.98" r="1.30" fill="#4a8cf2"/>
<circle cx="488.98" cy="141.58" r="1.30" fill="#478af4"/>
<circle cx="511.99" cy="108.29" r="1.30" fill="#478af4"/>
<circle cx="640.70" cy="48.50" r="1.30" fill="#f2076e"/>
<circle cx="555.50" cy="72.10" r="1.30" fill="#de0b8b"/>
<circle cx="424.24" cy="176.80" r="1.30" fill="#5090f0"/>
<circle cx="533.52" cy="78.75" r="1.30" fill="#5090f0"/>
<circle cx="544.79" cy="67.07" r="1.30" fill="#4a8cf2"/>
<circle cx="431.40" cy="177.32" r="1.30" fill="#5090f0"/>
<circle cx="517.12" cy="101.57" r="1.30" fill="#5090f0"/>
<circle cx="452.70" cy="179.10" r="1.30" fill="#a924c7"/>
<circle cx="454.21" cy="178.66" r="1.30" fill="#962dd7"/>
<circle cx="524.74" cy="89.83" r="1.30" fill="#4a8cf2"/>
<circle cx="419.70" cy="175.28" r="1.30" fill="#4a8cf2"/>
<circle cx="503.04" cy="120.98" r="1.30" fill="#5090f0"/>
<circle cx="486.99" cy="145.00" r="1.30" fill="#4a8cf2"/>
<circle cx="472.30" cy="164.35" r="1.30" fill="#5090f0"/>
<circle cx="563.80" cy="58.90" r="1.30" fill="#b91bb8"/>
<circle cx="581.30" cy="56.90" r="1.30" fill="#de0b8a"/>
<circle cx="423.64" cy="177.39" r="1.30" fill="#478af4"/>
<circle cx="523.14" cy="92.60" r="1.30" fill="#4a8cf2"/>
<circle cx="601.80" cy="50.80" r="1.30" fill="#fe0955"/>
<circle cx="419.58" cy="174.43" r="1.30" fill="#4a8cf2"/>
<circle cx="599.50" cy="40.70" r="1.30" fill="#8838dd"/>
<circle cx="449.80" cy="177.89" r="1.30" fill="#478af4"/>
<circle cx="511.23" cy="105.85" r="1.30" fill="#d50f96"/>
<circle cx="433.13" cy="180.87" r="1.30" fill="#5090f0"/>
<circle cx="530.32" cy="82.72" r="1.30" fill="#5090f0"/>
<circle cx="427.13" cy="177.13" r="1.30" fill="#5090f0"/>
<circle cx="522.24" cy="95.60" r="1.30" fill="#478af4"/>
<circle cx="473.54" cy="159.44" r="1.30" fill="#c317ae"/>
<circle cx="451.72" cy="178.42" r="1.30" fill="#5090f0"/>
<circle cx="535.70" cy="91.30" r="1.30" fill="#fc0759"/>
<circle cx="542.57" cy="73.08" r="1.30" fill="#a924c7"/>
<circle cx="427.14" cy="177.82" r="1.30" fill="#4a8cf2"/>
<circle cx="513.37" cy="103.74" r="1.30" fill="#833bdf"/>
<circle cx="488.01" cy="142.09" r="1.30" fill="#5090f0"/>
<circle cx="600.20" cy="56.90" r="1.30" fill="#fc0759"/>
<circle cx="501.83" cy="122.40" r="1.30" fill="#5090f0"/>
<circle cx="465.83" cy="169.77" r="1.30" fill="#4a8cf2"/>
<circle cx="569.20" cy="62.20" r="1.30" fill="#fc075a"/>
<circle cx="596.20" cy="40.90" r="1.30" fill="#e40983"/>
<circle cx="483.06" cy="150.10" r="1.30" fill="#4a8cf2"/>
<circle cx="467.84" cy="168.59" r="1.30" fill="#4a8cf2"/>
<circle cx="475.66" cy="161.32" r="1.30" fill="#5090f0"/>
<circle cx="459.39" cy="175.22" r="1.30" fill="#4a8cf2"/>
<circle cx="482.92" cy="150.61" r="1.30" fill="#478af4"/>
<circle cx="438.14" cy="179.36" r="1.30" fill="#478af4"/>
<circle cx="556.70" cy="60.89" r="1.30" fill="#5090f0"/>
<circle cx="543.40" cy="71.44" r="1.30" fill="#4a8cf2"/>
<circle cx="497.01" cy="127.90" r="1.30" fill="#833bdf"/>
<circle cx="460.92" cy="170.83" r="1.30" fill="#478af4"/>
<circle cx="518.55" cy="99.01" r="1.30" fill="#5090f0"/>
<circle cx="466.32" cy="169.42" r="1.30" fill="#5090f0"/>
<circle cx="421.05" cy="178.79" r="1.30" fill="#4a8cf2"/>
<circle cx="522.01" cy="96.64" r="1.30" fill="#478af4"/>
<circle cx="547.58" cy="66.89" r="1.30" fill="#478af4"/>
<circle cx="505.13" cy="118.81" r="1.30" fill="#478af4"/>
<circle cx="595.60" cy="36.60" r="1.30" fill="#8c34db"/>
<circle cx="539.03" cy="75.64" r="1.30" fill="#962dd7"/>
<circle cx="582.00" cy="53.50" r="1.30" fill="#e10a86"/>
<circle cx="456.56" cy="173.75" r="1.30" fill="#4a8cf2"/>
<circle cx="469.30" cy="167.44" r="1.30" fill="#478af4"/>
<circle cx="557.43" cy="61.01" r="1.30" fill="#a924c7"/>
<circle cx="422.75" cy="177.59" r="1.30" fill="#478af4"/>
<circle cx="431.29" cy="178.89" r="1.30" fill="#4a8cf2"/>
<circle cx="548.50" cy="67.40" r="1.30" fill="#952ed8"/>
<circle cx="545.13" cy="68.21" r="1.30" fill="#4a8cf2"/>
<circle cx="427.60" cy="178.65" r="1.30" fill="#478af4"/>
<circle cx="513.00" cy="104.40" r="1.30" fill="#d50f96"/>
<circle cx="493.36" cy="131.29" r="1.30" fill="#d50f96"/>
<circle cx="519.62" cy="97.25" r="1.30" fill="#478af4"/>
<circle cx="419.44" cy="177.45" r="1.30" fill="#478af4"/>
<circle cx="494.80" cy="135.27" r="1.30" fill="#5090f0"/>
<circle cx="481.54" cy="150.68" r="1.30" fill="#478af4"/>
<circle cx="504.21" cy="120.51" r="1.30" fill="#5090f0"/>
<circle cx="459.85" cy="174.60" r="1.30" fill="#962dd7"/>
<circle cx="573.20" cy="48.10" r="1.30" fill="#9230d9"/>
<circle cx="478.06" cy="156.88" r="1.30" fill="#478af4"/>
<circle cx="428.43" cy="180.40" r="1.30" fill="#5090f0"/>
<circle cx="598.70" cy="57.00" r="1.30" fill="#fc075c"/>
<circle cx="419.12" cy="176.29" r="1.30" fill="#4a8cf2"/>
<circle cx="491.31" cy="135.34" r="1.30" fill="#833bdf"/>
<circle cx="601.50" cy="50.80" r="1.30" fill="#e30a84"/>
<circle cx="532.37" cy="81.50" r="1.30" fill="#833bdf"/>
<circle cx="498.00" cy="132.40" r="1.30" fill="#fc075a"/>
<circle cx="449.54" cy="177.99" r="1.30" fill="#4a8cf2"/>
<circle cx="554.47" cy="62.45" r="1.30" fill="#a924c7"/>
<circle cx="511.54" cy="110.43" r="1.30" fill="#5090f0"/>
<circle cx="536.17" cy="75.76" r="1.30" fill="#478af4"/>
<circle cx="421.86" cy="176.43" r="1.30" fill="#5090f0"/>
<circle cx="578.60" cy="67.60" r="1.30" fill="#fc075c"/>
<circle cx="485.56" cy="145.65" r="1.30" fill="#5090f0"/>
<circle cx="432.26" cy="179.51" r="1.30" fill="#5090f0"/>
<circle cx="544.00" cy="69.21" r="1.30" fill="#833bdf"/>
<circle cx="482.32" cy="151.08" r="1.30" fill="#478af4"/>
<circle cx="544.50" cy="76.20" r="1.30" fill="#de0b8b"/>
<circle cx="504.08" cy="121.45" r="1.30" fill="#478af4"/>
<circle cx="452.57" cy="179.54" r="1.30" fill="#962dd7"/>
<circle cx="504.27" cy="116.65" r="1.30" fill="#d50f96"/>
<circle cx="468.24" cy="166.70" r="1.30" fill="#478af4"/>
<circle cx="486.03" cy="144.06" r="1.30" fill="#4a8cf2"/>
<circle cx="553.99" cy="60.15" r="1.30" fill="#5090f0"/>
<circle cx="420.25" cy="176.42" r="1.30" fill="#4a8cf2"/>
<circle cx="420.73" cy="176.79" r="1.30" fill="#4a8cf2"/>
<circle cx="419.51" cy="175.19" r="1.30" fill="#4a8cf2"/>
<circle cx="547.51" cy="66.97" r="1.30" fill="#478af4"/>
<circle cx="531.21" cy="81.19" r="1.30" fill="#4a8cf2"/>
<circle cx="551.00" cy="72.80" r="1.30" fill="#d90d91"/>
<circle cx="535.26" cy="75.83" r="1.30" fill="#478af4"/>
<circle cx="449.46" cy="180.84" r="1.30" fill="#b120c0"/>
<circle cx="519.66" cy="94.19" r="1.30" fill="#d50f96"/>
<circle cx="420.86" cy="177.98" r="1.30" fill="#4a8cf2"/>
<circle cx="475.65" cy="159.35" r="1.30" fill="#478af4"/>
<circle cx="421.50" cy="179.88" r="1.30" fill="#a924c7"/>
<circle cx="470.10" cy="164.95" r="1.30" fill="#5090f0"/>
<circle cx="510.30" cy="109.74" r="1.30" fill="#478af4"/>
<circle cx="526.06" cy="90.38" r="1.30" fill="#4a8cf2"/>
<circle cx="493.55" cy="136.02" r="1.30" fill="#4a8cf2"/>
<circle cx="528.88" cy="83.95" r="1.30" fill="#4a8cf2"/>
<circle cx="431.63" cy="177.29" r="1.30" fill="#5090f0"/>
<circle cx="511.31" cy="107.10" r="1.30" fill="#962dd7"/>
<circle cx="571.20" cy="63.60" r="1.30" fill="#e30a85"/>
<circle cx="438.93" cy="178.58" r="1.30" fill="#5090f0"/>
<circle cx="495.12" cy="131.37" r="1.30" fill="#833bdf"/>
<circle cx="454.11" cy="177.63" r="1.30" fill="#4a8cf2"/>
<circle cx="456.30" cy="174.19" r="1.30" fill="#478af4"/>
<circle cx="482.25" cy="151.82" r="1.30" fill="#478af4"/>
<circle cx="500.49" cy="124.85" r="1.30" fill="#478af4"/>
<circle cx="618.50" cy="32.20" r="1.30" fill="#dd0c8c"/>
<circle cx="467.24" cy="163.66" r="1.30" fill="#962dd7"/>
<circle cx="482.15" cy="151.78" r="1.30" fill="#5090f0"/>
<circle cx="424.18" cy="178.66" r="1.30" fill="#5090f0"/>
<circle cx="640.70" cy="29.93" r="1.30" fill="#bf18b2"/>
<circle cx="522.27" cy="93.90" r="1.30" fill="#478af4"/>
<circle cx="622.80" cy="50.80" r="1.30" fill="#fc075a"/>
<circle cx="482.58" cy="149.76" r="1.30" fill="#478af4"/>
<circle cx="551.90" cy="68.80" r="1.30" fill="#bf19b3"/>
<circle cx="521.62" cy="94.39" r="1.30" fill="#478af4"/>
<circle cx="556.10" cy="58.99" r="1.30" fill="#4a8cf2"/>
<circle cx="539.10" cy="87.60" r="1.30" fill="#fc075b"/>
<circle cx="513.97" cy="103.58" r="1.30" fill="#a924c7"/>
<circle cx="517.60" cy="101.72" r="1.30" fill="#4a8cf2"/>
<circle cx="428.47" cy="178.56" r="1.30" fill="#478af4"/>
<circle cx="425.86" cy="176.51" r="1.30" fill="#5090f0"/>
<circle cx="426.10" cy="181.32" r="1.30" fill="#962dd7"/>
<circle cx="559.29" cy="58.30" r="1.30" fill="#833bdf"/>
<circle cx="540.64" cy="74.24" r="1.30" fill="#a924c7"/>
<circle cx="550.86" cy="61.91" r="1.30" fill="#478af4"/>
<circle cx="527.17" cy="87.17" r="1.30" fill="#5090f0"/>
<circle cx="484.50" cy="144.38" r="1.30" fill="#962dd7"/>
<circle cx="549.80" cy="66.00" r="1.30" fill="#5090f0"/>
<circle cx="553.07" cy="60.33" r="1.30" fill="#5090f0"/>
<circle cx="538.87" cy="76.04" r="1.30" fill="#962dd7"/>
<circle cx="599.90" cy="55.70" r="1.30" fill="#fc075b"/>
<circle cx="418.44" cy="176.90" r="1.30" fill="#4a8cf2"/>
<circle cx="536.04" cy="75.42" r="1.30" fill="#478af4"/>
<circle cx="453.94" cy="177.11" r="1.30" fill="#478af4"/>
<circle cx="479.21" cy="153.99" r="1.30" fill="#5090f0"/>
<circle cx="608.00" cy="36.60" r="1.30" fill="#e00a88"/>
<circle cx="492.81" cy="133.07" r="1.30" fill="#833bdf"/>
<circle cx="455.91" cy="175.20" r="1.30" fill="#5090f0"/>
<circle cx="483.20" cy="149.08" r="1.30" fill="#478af4"/>
<circle cx="514.18" cy="107.52" r="1.30" fill="#4a8cf2"/>
<circle cx="621.00" cy="43.40" r="1.30" fill="#fd0859"/>
<circle cx="495.67" cy="131.55" r="1.30" fill="#5090f0"/>
<circle cx="469.66" cy="165.90" r="1.30" fill="#478af4"/>
<circle cx="480.04" cy="154.88" r="1.30" fill="#478af4"/>
<circle cx="448.93" cy="179.06" r="1.30" fill="#4a8cf2"/>
<circle cx="610.50" cy="30.40" r="1.30" fill="#4a8cf2"/>
<circle cx="547.93" cy="65.33" r="1.30" fill="#478af4"/>
<circle cx="510.19" cy="110.59" r="1.30" fill="#5090f0"/>
<circle cx="485.99" cy="145.93" r="1.30" fill="#4a8cf2"/>
<circle cx="539.60" cy="72.94" r="1.30" fill="#4a8cf2"/>
<circle cx="420.99" cy="175.87" r="1.30" fill="#4a8cf2"/>
<circle cx="559.30" cy="77.50" r="1.30" fill="#fd0858"/>
<circle cx="435.13" cy="177.77" r="1.30" fill="#4a8cf2"/>
<circle cx="490.01" cy="136.28" r="1.30" fill="#a924c7"/>
<circle cx="475.80" cy="156.14" r="1.30" fill="#d50f96"/>
<circle cx="527.00" cy="102.10" r="1.30" fill="#fd0856"/>
<circle cx="511.48" cy="105.20" r="1.30" fill="#833bdf"/>
<circle cx="560.40" cy="61.60" r="1.30" fill="#bf19b3"/>
<circle cx="518.40" cy="100.10" r="1.30" fill="#5090f0"/>
<circle cx="471.45" cy="166.13" r="1.30" fill="#478af4"/>
<circle cx="559.64" cy="58.97" r="1.30" fill="#478af4"/>
<circle cx="451.67" cy="177.04" r="1.30" fill="#5090f0"/>
<circle cx="634.60" cy="45.80" r="1.30" fill="#fc075a"/>
<circle cx="489.06" cy="137.60" r="1.30" fill="#833bdf"/>
<circle cx="521.53" cy="96.57" r="1.30" fill="#4a8cf2"/>
<circle cx="424.40" cy="177.26" r="1.30" fill="#5090f0"/>
<circle cx="468.52" cy="168.79" r="1.30" fill="#4a8cf2"/>
<circle cx="585.30" cy="64.30" r="1.30" fill="#fd0856"/>
<circle cx="419.71" cy="174.80" r="1.30" fill="#4a8cf2"/>
<circle cx="531.38" cy="82.54" r="1.30" fill="#a924c7"/>
<circle cx="424.60" cy="177.56" r="1.30" fill="#478af4"/>
<circle cx="519.35" cy="95.14" r="1.30" fill="#a924c7"/>
<circle cx="538.30" cy="75.78" r="1.30" fill="#478af4"/>
<circle cx="461.15" cy="172.15" r="1.30" fill="#4a8cf2"/>
<circle cx="502.25" cy="123.16" r="1.30" fill="#4a8cf2"/>
<circle cx="489.96" cy="139.03" r="1.30" fill="#478af4"/>
<circle cx="443.00" cy="180.50" r="1.30" fill="#478af4"/>
<circle cx="603.70" cy="56.70" r="1.30" fill="#fe0954"/>
<circle cx="495.66" cy="128.40" r="1.30" fill="#833bdf"/>
<circle cx="559.00" cy="77.10" r="1.30" fill="#fd0859"/>
<circle cx="465.88" cy="168.21" r="1.30" fill="#478af4"/>
<circle cx="520.88" cy="94.46" r="1.30" fill="#962dd7"/>
<circle cx="517.10" cy="111.00" r="1.30" fill="#fd0857"/>
<circle cx="495.34" cy="132.75" r="1.30" fill="#478af4"/>
<circle cx="479.62" cy="156.54" r="1.30" fill="#478af4"/>
<circle cx="603.50" cy="56.90" r="1.30" fill="#fc075a"/>
<circle cx="504.26" cy="117.77" r="1.30" fill="#962dd7"/>
<circle cx="464.11" cy="172.48" r="1.30" fill="#478af4"/>
<circle cx="508.26" cy="111.81" r="1.30" fill="#a924c7"/>
<circle cx="518.54" cy="101.00" r="1.30" fill="#478af4"/>
<circle cx="498.30" cy="126.63" r="1.30" fill="#833bdf"/>
<circle cx="538.20" cy="73.41" r="1.30" fill="#478af4"/>
<circle cx="529.90" cy="89.90" r="1.30" fill="#db0d8f"/>
<circle cx="446.47" cy="177.54" r="1.30" fill="#4a8cf2"/>
<circle cx="419.34" cy="177.49" r="1.30" fill="#4a8cf2"/>
<circle cx="558.40" cy="70.30" r="1.30" fill="#dc0c8e"/>
<circle cx="451.81" cy="176.38" r="1.30" fill="#5090f0"/>
<circle cx="540.70" cy="72.17" r="1.30" fill="#4a8cf2"/>
<circle cx="504.04" cy="120.34" r="1.30" fill="#478af4"/>
<circle cx="507.40" cy="114.60" r="1.30" fill="#5090f0"/>
<circle cx="570.50" cy="50.10" r="1.30" fill="#4a8cf2"/>
<circle cx="640.70" cy="45.64" r="1.30" fill="#ec0877"/>
<circle cx="549.07" cy="67.52" r="1.30" fill="#833bdf"/>
<circle cx="513.75" cy="107.38" r="1.30" fill="#478af4"/>
<circle cx="537.50" cy="86.70" r="1.30" fill="#e00a88"/>
<circle cx="458.50" cy="175.83" r="1.30" fill="#5090f0"/>
<circle cx="510.82" cy="111.83" r="1.30" fill="#5090f0"/>
<circle cx="458.09" cy="174.04" r="1.30" fill="#478af4"/>
<circle cx="420.01" cy="175.95" r="1.30" fill="#4a8cf2"/>
<circle cx="491.88" cy="135.77" r="1.30" fill="#a924c7"/>
<circle cx="502.55" cy="122.42" r="1.30" fill="#478af4"/>
<circle cx="614.20" cy="53.30" r="1.30" fill="#fd0858"/>
<circle cx="535.70" cy="78.30" r="1.30" fill="#5090f0"/>
<circle cx="439.13" cy="177.65" r="1.30" fill="#478af4"/>
<circle cx="547.89" cy="66.33" r="1.30" fill="#5090f0"/>
<circle cx="467.21" cy="167.39" r="1.30" fill="#4a8cf2"/>
<circle cx="553.36" cy="61.06" r="1.30" fill="#5090f0"/>
<circle cx="498.74" cy="129.98" r="1.30" fill="#5090f0"/>
<circle cx="473.96" cy="157.71" r="1.30" fill="#833bdf"/>
<circle cx="495.88" cy="128.38" r="1.30" fill="#a924c7"/>
<circle cx="482.26" cy="149.91" r="1.30" fill="#4a8cf2"/>
<circle cx="452.78" cy="179.18" r="1.30" fill="#962dd7"/>
<circle cx="538.42" cy="74.08" r="1.30" fill="#478af4"/>
<circle cx="516.90" cy="110.80" r="1.30" fill="#fc075c"/>
<circle cx="543.57" cy="67.73" r="1.30" fill="#478af4"/>
<circle cx="423.93" cy="178.12" r="1.30" fill="#5090f0"/>
<circle cx="619.10" cy="51.40" r="1.30" fill="#fb065d"/>
<circle cx="603.70" cy="34.70" r="1.30" fill="#b71dba"/>
<circle cx="569.20" cy="55.50" r="1.30" fill="#e20a85"/>
<circle cx="498.39" cy="130.42" r="1.30" fill="#5090f0"/>
<circle cx="518.57" cy="100.37" r="1.30" fill="#5090f0"/>
<circle cx="498.99" cy="129.65" r="1.30" fill="#5090f0"/>
<circle cx="595.40" cy="42.00" r="1.30" fill="#e20a85"/>
<circle cx="437.74" cy="179.33" r="1.30" fill="#4a8cf2"/>
<circle cx="454.19" cy="176.36" r="1.30" fill="#5090f0"/>
<circle cx="544.06" cy="72.08" r="1.30" fill="#a924c7"/>
<circle cx="427.44" cy="179.08" r="1.30" fill="#4a8cf2"/>
<circle cx="514.50" cy="104.44" r="1.30" fill="#478af4"/>
<circle cx="507.90" cy="113.75" r="1.30" fill="#4a8cf2"/>
<circle cx="536.42" cy="76.30" r="1.30" fill="#5090f0"/>
<circle cx="532.36" cy="80.78" r="1.30" fill="#5090f0"/>
<circle cx="589.40" cy="49.40" r="1.30" fill="#db0d8f"/>
<circle cx="640.70" cy="34.21" r="1.30" fill="#cd13a1"/>
<circle cx="514.38" cy="105.21" r="1.30" fill="#5090f0"/>
<circle cx="523.15" cy="92.87" r="1.30" fill="#4a8cf2"/>
<circle cx="509.08" cy="111.74" r="1.30" fill="#5090f0"/>
<circle cx="588.70" cy="62.20" r="1.30" fill="#fc075b"/>
<circle cx="527.32" cy="89.54" r="1.30" fill="#5090f0"/>
<circle cx="450.62" cy="180.75" r="1.30" fill="#962dd7"/>
<circle cx="441.66" cy="181.86" r="1.30" fill="#a924c7"/>
<circle cx="543.52" cy="68.62" r="1.30" fill="#4a8cf2"/>
<circle cx="637.00" cy="35.30" r="1.30" fill="#df0b8a"/>
<circle cx="459.26" cy="173.71" r="1.30" fill="#5090f0"/>
<circle cx="629.60" cy="42.80" r="1.30" fill="#fb065e"/>
<circle cx="519.65" cy="97.15" r="1.30" fill="#478af4"/>
<circle cx="597.50" cy="48.10" r="1.30" fill="#d80e92"/>
<circle cx="485.81" cy="146.31" r="1.30" fill="#478af4"/>
<circle cx="465.27" cy="169.84" r="1.30" fill="#5090f0"/>
<circle cx="617.90" cy="26.10" r="1.30" fill="#8d33db"/>
<circle cx="554.23" cy="60.28" r="1.30" fill="#478af4"/>
<circle cx="505.75" cy="116.80" r="1.30" fill="#5090f0"/>
<circle cx="500.75" cy="126.04" r="1.30" fill="#478af4"/>
<circle cx="474.67" cy="162.81" r="1.30" fill="#478af4"/>
<circle cx="424.26" cy="177.76" r="1.30" fill="#478af4"/>
<circle cx="512.31" cy="104.25" r="1.30" fill="#c317ae"/>
<circle cx="495.38" cy="131.48" r="1.30" fill="#4a8cf2"/>
<circle cx="499.78" cy="128.06" r="1.30" fill="#4a8cf2"/>
<circle cx="419.67" cy="174.82" r="1.30" fill="#4a8cf2"/>
<circle cx="632.70" cy="22.60" r="1.30" fill="#8639de"/>
<circle cx="432.46" cy="181.67" r="1.30" fill="#962dd7"/>
<circle cx="431.30" cy="178.11" r="1.30" fill="#5090f0"/>
<circle cx="477.14" cy="157.55" r="1.30" fill="#478af4"/>
<circle cx="513.00" cy="107.78" r="1.30" fill="#4a8cf2"/>
<circle cx="530.95" cy="83.86" r="1.30" fill="#4a8cf2"/>
<circle cx="488.50" cy="143.73" r="1.30" fill="#4a8cf2"/>
<circle cx="536.56" cy="77.89" r="1.30" fill="#5090f0"/>
<circle cx="430.86" cy="177.69" r="1.30" fill="#5090f0"/>
<circle cx="640.70" cy="39.93" r="1.30" fill="#de0b8a"/>
<circle cx="513.20" cy="102.42" r="1.30" fill="#c317ae"/>
<circle cx="484.57" cy="147.96" r="1.30" fill="#4a8cf2"/>
<circle cx="421.97" cy="177.31" r="1.30" fill="#4a8cf2"/>
<circle cx="524.65" cy="91.45" r="1.30" fill="#4a8cf2"/>
<circle cx="422.59" cy="178.95" r="1.30" fill="#478af4"/>
<circle cx="473.64" cy="162.46" r="1.30" fill="#5090f0"/>
<circle cx="553.09" cy="61.23" r="1.30" fill="#5090f0"/>
<circle cx="488.64" cy="141.40" r="1.30" fill="#5090f0"/>
<circle cx="613.50" cy="27.90" r="1.30" fill="#8937dd"/>
<circle cx="512.96" cy="105.97" r="1.30" fill="#478af4"/>
<circle cx="485.72" cy="143.34" r="1.30" fill="#a924c7"/>
<circle cx="439.75" cy="179.75" r="1.30" fill="#4a8cf2"/>
<circle cx="503.67" cy="116.27" r="1.30" fill="#962dd7"/>
<circle cx="456.22" cy="176.46" r="1.30" fill="#5090f0"/>
<circle cx="483.84" cy="149.65" r="1.30" fill="#5090f0"/>
<circle cx="606.90" cy="44.00" r="1.30" fill="#dd0c8c"/>
<circle cx="613.60" cy="50.10" r="1.30" fill="#fd0857"/>
<circle cx="426.44" cy="177.11" r="1.30" fill="#5090f0"/>
<circle cx="522.91" cy="93.95" r="1.30" fill="#5090f0"/>
<circle cx="549.81" cy="64.68" r="1.30" fill="#962dd7"/>
<circle cx="528.88" cy="85.33" r="1.30" fill="#5090f0"/>
<circle cx="433.49" cy="178.14" r="1.30" fill="#5090f0"/>
<circle cx="550.88" cy="66.08" r="1.30" fill="#a924c7"/>
<circle cx="541.41" cy="72.70" r="1.30" fill="#a924c7"/>
<circle cx="443.94" cy="177.77" r="1.30" fill="#5090f0"/>
<circle cx="486.62" cy="144.79" r="1.30" fill="#4a8cf2"/>
<circle cx="515.45" cy="104.41" r="1.30" fill="#5090f0"/>
<circle cx="640.70" cy="37.07" r="1.30" fill="#d60f96"/>
<circle cx="526.49" cy="90.43" r="1.30" fill="#5090f0"/>
<circle cx="540.05" cy="74.09" r="1.30" fill="#a924c7"/>
<circle cx="560.95" cy="57.85" r="1.30" fill="#4a8cf2"/>
<circle cx="474.77" cy="159.75" r="1.30" fill="#5090f0"/>
<circle cx="551.21" cy="62.52" r="1.30" fill="#4a8cf2"/>
<circle cx="523.16" cy="92.09" r="1.30" fill="#4a8cf2"/>
<circle cx="638.30" cy="26.10" r="1.30" fill="#9230d9"/>
<circle cx="495.88" cy="129.80" r="1.30" fill="#833bdf"/>
<circle cx="443.56" cy="178.75" r="1.30" fill="#4a8cf2"/>
<circle cx="560.49" cy="57.86" r="1.30" fill="#5090f0"/>
<circle cx="423.27" cy="181.12" r="1.30" fill="#962dd7"/>
<circle cx="535.30" cy="76.54" r="1.30" fill="#478af4"/>
<circle cx="452.90" cy="175.68" r="1.30" fill="#4a8cf2"/>
<circle cx="462.08" cy="173.35" r="1.30" fill="#478af4"/>
<circle cx="614.20" cy="27.30" r="1.30" fill="#bf19b3"/>
<circle cx="476.12" cy="155.90" r="1.30" fill="#833bdf"/>
<circle cx="448.88" cy="179.12" r="1.30" fill="#4a8cf2"/>
<circle cx="475.70" cy="155.97" r="1.30" fill="#a924c7"/>
<circle cx="420.36" cy="176.06" r="1.30" fill="#4a8cf2"/>
<circle cx="519.59" cy="99.03" r="1.30" fill="#478af4"/>
<circle cx="501.33" cy="122.52" r="1.30" fill="#5090f0"/>
<circle cx="460.95" cy="171.17" r="1.30" fill="#5090f0"/>
<circle cx="440.26" cy="182.21" r="1.30" fill="#962dd7"/>
<circle cx="503.47" cy="118.94" r="1.30" fill="#a924c7"/>
<circle cx="544.40" cy="69.85" r="1.30" fill="#962dd7"/>
<circle cx="470.92" cy="163.27" r="1.30" fill="#4a8cf2"/>
<circle cx="630.20" cy="44.00" r="1.30" fill="#fc075c"/>
<circle cx="549.45" cy="65.49" r="1.30" fill="#a924c7"/>
<circle cx="553.26" cy="63.98" r="1.30" fill="#a924c7"/>
<circle cx="624.00" cy="26.70" r="1.30" fill="#4a8cf2"/>
<circle cx="576.60" cy="46.70" r="1.30" fill="#8837dd"/>
<circle cx="451.15" cy="176.27" r="1.30" fill="#478af4"/>
<circle cx="420.36" cy="174.57" r="1.30" fill="#4a8cf2"/>
<circle cx="539.45" cy="73.24" r="1.30" fill="#478af4"/>
<circle cx="489.55" cy="142.49" r="1.30" fill="#5090f0"/>
<circle cx="470.30" cy="164.27" r="1.30" fill="#478af4"/>
<circle cx="497.30" cy="131.39" r="1.30" fill="#4a8cf2"/>
<circle cx="601.00" cy="40.50" r="1.30" fill="#b41ebd"/>
<circle cx="640.70" cy="41.36" r="1.30" fill="#e20a85"/>
<circle cx="496.87" cy="130.15" r="1.30" fill="#5090f0"/>
<circle cx="559.88" cy="58.09" r="1.30" fill="#962dd7"/>
<circle cx="519.60" cy="101.30" r="1.30" fill="#fe0955"/>
<circle cx="597.50" cy="48.30" r="1.30" fill="#fd0857"/>
<circle cx="442.18" cy="181.58" r="1.30" fill="#a924c7"/>
<circle cx="525.55" cy="86.75" r="1.30" fill="#a924c7"/>
<circle cx="525.51" cy="89.15" r="1.30" fill="#5090f0"/>
<circle cx="640.70" cy="32.79" r="1.30" fill="#c815a7"/>
<circle cx="442.59" cy="179.79" r="1.30" fill="#478af4"/>
<circle cx="558.60" cy="70.10" r="1.30" fill="#e30a84"/>
<circle cx="556.69" cy="59.96" r="1.30" fill="#478af4"/>
<circle cx="559.31" cy="57.72" r="1.30" fill="#478af4"/>
<circle cx="492.04" cy="134.89" r="1.30" fill="#a924c7"/>
<circle cx="431.27" cy="179.25" r="1.30" fill="#478af4"/>
<circle cx="429.21" cy="177.49" r="1.30" fill="#478af4"/>
<circle cx="554.42" cy="62.97" r="1.30" fill="#4a8cf2"/>
<circle cx="537.82" cy="75.34" r="1.30" fill="#478af4"/>
<circle cx="450.21" cy="176.81" r="1.30" fill="#5090f0"/>
<circle cx="541.10" cy="76.90" r="1.30" fill="#b31ebd"/>
<circle cx="506.02" cy="113.02" r="1.30" fill="#833bdf"/>
<circle cx="453.52" cy="176.52" r="1.30" fill="#478af4"/>
<circle cx="544.85" cy="67.91" r="1.30" fill="#478af4"/>
<circle cx="511.30" cy="109.36" r="1.30" fill="#4a8cf2"/>
<circle cx="422.90" cy="178.81" r="1.30" fill="#478af4"/>
<circle cx="555.30" cy="79.60" r="1.30" fill="#fd0858"/>
<circle cx="547.03" cy="65.77" r="1.30" fill="#5090f0"/>
<circle cx="544.47" cy="69.42" r="1.30" fill="#478af4"/>
<circle cx="496.68" cy="125.86" r="1.30" fill="#c317ae"/>
<circle cx="533.58" cy="80.46" r="1.30" fill="#4a8cf2"/>
<circle cx="551.59" cy="62.94" r="1.30" fill="#4a8cf2"/>
<circle cx="519.54" cy="100.22" r="1.30" fill="#4a8cf2"/>
<circle cx="491.83" cy="134.37" r="1.30" fill="#b120c0"/>
<circle cx="519.10" cy="99.69" r="1.30" fill="#4a8cf2"/>
<circle cx="469.17" cy="165.62" r="1.30" fill="#5090f0"/>
<circle cx="459.97" cy="174.40" r="1.30" fill="#4a8cf2"/>
<circle cx="449.56" cy="179.44" r="1.30" fill="#4a8cf2"/>
<circle cx="543.70" cy="68.85" r="1.30" fill="#478af4"/>
<circle cx="640.70" cy="38.50" r="1.30" fill="#da0d90"/>
<circle cx="542.72" cy="68.41" r="1.30" fill="#4a8cf2"/>
<circle cx="496.88" cy="132.52" r="1.30" fill="#4a8cf2"/>
<circle cx="588.00" cy="56.20" r="1.30" fill="#dc0c8d"/>
<circle cx="554.24" cy="63.10" r="1.30" fill="#4a8cf2"/>
<circle cx="529.80" cy="85.19" r="1.30" fill="#5090f0"/>
<circle cx="491.89" cy="138.28" r="1.30" fill="#5090f0"/>
<circle cx="492.67" cy="137.42" r="1.30" fill="#478af4"/>
<circle cx="561.23" cy="55.66" r="1.30" fill="#478af4"/>
<circle cx="445.06" cy="180.35" r="1.30" fill="#a924c7"/>
<circle cx="418.21" cy="175.19" r="1.30" fill="#4a8cf2"/>
<circle cx="452.68" cy="177.90" r="1.30" fill="#5090f0"/>
<circle cx="421.01" cy="175.17" r="1.30" fill="#4a8cf2"/>
<circle cx="515.79" cy="99.34" r="1.30" fill="#833bdf"/>
<circle cx="506.29" cy="113.20" r="1.30" fill="#833bdf"/>
<circle cx="545.20" cy="85.90" r="1.30" fill="#fc075a"/>
<circle cx="419.94" cy="174.93" r="1.30" fill="#4a8cf2"/>
<circle cx="426.28" cy="178.53" r="1.30" fill="#478af4"/>
<circle cx="434.87" cy="180.52" r="1.30" fill="#478af4"/>
<circle cx="609.60" cy="41.30" r="1.30" fill="#e20a85"/>
<circle cx="626.50" cy="50.20" r="1.30" fill="#fd0857"/>
<circle cx="472.46" cy="163.26" r="1.30" fill="#5090f0"/>
<circle cx="519.14" cy="94.53" r="1.30" fill="#833bdf"/>
<circle cx="524.11" cy="91.86" r="1.30" fill="#4a8cf2"/>
<circle cx="555.00" cy="71.70" r="1.30" fill="#fc0759"/>
<circle cx="493.65" cy="135.15" r="1.30" fill="#4a8cf2"/>
<circle cx="576.60" cy="69.00" r="1.30" fill="#fd0858"/>
<circle cx="608.30" cy="51.50" r="1.30" fill="#fb065d"/>
<circle cx="470.09" cy="163.88" r="1.30" fill="#478af4"/>
<circle cx="551.00" cy="80.90" r="1.30" fill="#fd0858"/>
<circle cx="532.50" cy="83.75" r="1.30" fill="#833bdf"/>
<circle cx="613.50" cy="49.60" r="1.30" fill="#fd0858"/>
<circle cx="551.23" cy="64.21" r="1.30" fill="#a924c7"/>
<circle cx="460.99" cy="173.01" r="1.30" fill="#5090f0"/>
<circle cx="608.60" cy="51.40" r="1.30" fill="#fd0857"/>
<circle cx="466.22" cy="166.38" r="1.30" fill="#a924c7"/>
<circle cx="438.65" cy="178.88" r="1.30" fill="#4a8cf2"/>
<circle cx="422.38" cy="178.06" r="1.30" fill="#5090f0"/>
<circle cx="542.43" cy="69.29" r="1.30" fill="#478af4"/>
<circle cx="569.80" cy="51.50" r="1.30" fill="#4a8cf2"/>
<circle cx="527.76" cy="88.69" r="1.30" fill="#833bdf"/>
<circle cx="495.48" cy="130.22" r="1.30" fill="#962dd7"/>
<circle cx="521.21" cy="97.55" r="1.30" fill="#4a8cf2"/>
<circle cx="484.41" cy="145.06" r="1.30" fill="#a924c7"/>
<circle cx="550.12" cy="67.06" r="1.30" fill="#833bdf"/>
<circle cx="519.38" cy="93.91" r="1.30" fill="#d50f96"/>
<circle cx="555.00" cy="79.80" r="1.30" fill="#fc075b"/>
<circle cx="542.33" cy="72.33" r="1.30" fill="#a924c7"/>
<circle cx="595.40" cy="60.20" r="1.30" fill="#fb065d"/>
<circle cx="470.14" cy="162.73" r="1.30" fill="#962dd7"/>
<circle cx="494.20" cy="133.77" r="1.30" fill="#4a8cf2"/>
<circle cx="469.51" cy="166.90" r="1.30" fill="#4a8cf2"/>
<circle cx="466.45" cy="164.87" r="1.30" fill="#d50f96"/>
<circle cx="617.90" cy="27.90" r="1.30" fill="#4a8cf2"/>
<circle cx="455.83" cy="174.32" r="1.30" fill="#4a8cf2"/>
<circle cx="498.22" cy="124.90" r="1.30" fill="#833bdf"/>
<circle cx="525.59" cy="90.88" r="1.30" fill="#4a8cf2"/>
<circle cx="611.60" cy="53.50" r="1.30" fill="#fb065d"/>
<circle cx="598.70" cy="35.30" r="1.30" fill="#4a8cf2"/>
<circle cx="441.18" cy="182.85" r="1.30" fill="#c317ae"/>
<circle cx="541.23" cy="71.48" r="1.30" fill="#5090f0"/>
<circle cx="487.31" cy="142.89" r="1.30" fill="#478af4"/>
<circle cx="455.13" cy="175.99" r="1.30" fill="#4a8cf2"/>
<circle cx="523.19" cy="89.97" r="1.30" fill="#b120c0"/>
<circle cx="421.13" cy="175.96" r="1.30" fill="#4a8cf2"/>
<circle cx="505.59" cy="118.69" r="1.30" fill="#478af4"/>
<circle cx="465.70" cy="169.21" r="1.30" fill="#478af4"/>
<circle cx="472.05" cy="163.27" r="1.30" fill="#4a8cf2"/>
<circle cx="549.68" cy="63.31" r="1.30" fill="#4a8cf2"/>
<circle cx="518.93" cy="98.34" r="1.30" fill="#478af4"/>
<circle cx="439.07" cy="177.84" r="1.30" fill="#5090f0"/>
<circle cx="418.72" cy="174.64" r="1.30" fill="#4a8cf2"/>
<circle cx="535.87" cy="78.93" r="1.30" fill="#833bdf"/>
<circle cx="432.74" cy="179.83" r="1.30" fill="#4a8cf2"/>
<circle cx="477.59" cy="159.14" r="1.30" fill="#5090f0"/>
<circle cx="428.04" cy="177.45" r="1.30" fill="#4a8cf2"/>
<circle cx="497.13" cy="130.63" r="1.30" fill="#478af4"/>
<circle cx="598.80" cy="56.20" r="1.30" fill="#fc075b"/>
<circle cx="448.62" cy="177.85" r="1.30" fill="#478af4"/>
<circle cx="418.63" cy="177.27" r="1.30" fill="#962dd7"/>
<circle cx="640.70" cy="20.50" r="1.30" fill="#962dd7"/>
<circle cx="554.87" cy="62.37" r="1.30" fill="#478af4"/>
<circle cx="536.91" cy="77.44" r="1.30" fill="#962dd7"/>
<circle cx="540.43" cy="71.88" r="1.30" fill="#4a8cf2"/>
<circle cx="510.30" cy="112.48" r="1.30" fill="#478af4"/>
<circle cx="474.82" cy="161.58" r="1.30" fill="#4a8cf2"/>
<circle cx="432.10" cy="179.69" r="1.30" fill="#5090f0"/>
<circle cx="529.32" cy="87.80" r="1.30" fill="#962dd7"/>
<circle cx="504.45" cy="118.00" r="1.30" fill="#5090f0"/>
<circle cx="474.18" cy="157.56" r="1.30" fill="#a924c7"/>
<circle cx="515.67" cy="100.42" r="1.30" fill="#a924c7"/>
<circle cx="433.32" cy="180.71" r="1.30" fill="#4a8cf2"/>
<circle cx="429.67" cy="177.02" r="1.30" fill="#4a8cf2"/>
<circle cx="621.00" cy="50.20" r="1.30" fill="#fe0954"/>
<circle cx="559.67" cy="59.54" r="1.30" fill="#833bdf"/>
<circle cx="501.48" cy="125.71" r="1.30" fill="#4a8cf2"/>
<circle cx="503.26" cy="120.83" r="1.30" fill="#5090f0"/>
<circle cx="621.60" cy="26.10" r="1.30" fill="#8c35db"/>
<circle cx="541.38" cy="70.15" r="1.30" fill="#5090f0"/>
<circle cx="511.90" cy="109.06" r="1.30" fill="#5090f0"/>
<circle cx="495.06" cy="133.96" r="1.30" fill="#4a8cf2"/>
<circle cx="427.83" cy="181.64" r="1.30" fill="#c317ae"/>
<circle cx="455.98" cy="174.30" r="1.30" fill="#5090f0"/>
<circle cx="591.40" cy="61.60" r="1.30" fill="#fb065e"/>
<circle cx="611.70" cy="53.90" r="1.30" fill="#fd0859"/>
<circle cx="509.87" cy="107.11" r="1.30" fill="#b120c0"/>
<circle cx="496.96" cy="129.80" r="1.30" fill="#4a8cf2"/>
<circle cx="640.70" cy="28.50" r="1.30" fill="#ba1bb7"/>
<circle cx="511.13" cy="106.60" r="1.30" fill="#d50f96"/>
<circle cx="535.32" cy="79.02" r="1.30" fill="#4a8cf2"/>
<circle cx="474.12" cy="158.75" r="1.30" fill="#833bdf"/>
<circle cx="429.06" cy="178.19" r="1.30" fill="#4a8cf2"/>
<circle cx="640.70" cy="44.21" r="1.30" fill="#e9087c"/>
<circle cx="457.56" cy="175.32" r="1.30" fill="#5090f0"/>
<circle cx="440.78" cy="180.41" r="1.30" fill="#478af4"/>
<circle cx="434.20" cy="177.48" r="1.30" fill="#478af4"/>
<circle cx="532.23" cy="83.62" r="1.30" fill="#962dd7"/>
<circle cx="497.66" cy="129.28" r="1.30" fill="#4a8cf2"/>
<circle cx="539.92" cy="71.04" r="1.30" fill="#478af4"/>
<circle cx="482.85" cy="145.44" r="1.30" fill="#d50f96"/>
<circle cx="517.58" cy="97.81" r="1.30" fill="#b120c0"/>
<circle cx="500.35" cy="121.79" r="1.30" fill="#a924c7"/>
<circle cx="516.39" cy="102.24" r="1.30" fill="#4a8cf2"/>
<circle cx="527.19" cy="87.75" r="1.30" fill="#4a8cf2"/>
<circle cx="556.42" cy="62.14" r="1.30" fill="#833bdf"/>
<circle cx="517.91" cy="97.15" r="1.30" fill="#962dd7"/>
<circle cx="443.52" cy="177.32" r="1.30" fill="#5090f0"/>
<circle cx="536.83" cy="75.05" r="1.30" fill="#478af4"/>
<circle cx="640.70" cy="18.70" r="1.30" fill="#962dd7"/>
<circle cx="540.40" cy="79.50" r="1.30" fill="#c018b1"/>
<circle cx="418.83" cy="177.84" r="1.30" fill="#4a8cf2"/>
<circle cx="545.43" cy="68.39" r="1.30" fill="#5090f0"/>
<circle cx="442.93" cy="178.66" r="1.30" fill="#478af4"/>
<circle cx="496.41" cy="130.72" r="1.30" fill="#5090f0"/>
<circle cx="528.84" cy="84.78" r="1.30" fill="#478af4"/>
<circle cx="572.50" cy="65.60" r="1.30" fill="#fc075c"/>
<circle cx="456.86" cy="178.48" r="1.30" fill="#962dd7"/>
<circle cx="640.70" cy="22.40" r="1.30" fill="#4a8cf2"/>
<circle cx="422.02" cy="176.60" r="1.30" fill="#4a8cf2"/>
<circle cx="593.40" cy="60.90" r="1.30" fill="#fe0955"/>
<circle cx="463.54" cy="166.78" r="1.30" fill="#a924c7"/>
<circle cx="485.37" cy="144.21" r="1.30" fill="#833bdf"/>
<circle cx="428.04" cy="178.07" r="1.30" fill="#478af4"/>
<circle cx="640.70" cy="31.36" r="1.30" fill="#c417ad"/>
<circle cx="540.31" cy="71.23" r="1.30" fill="#4a8cf2"/>
<circle cx="640.70" cy="42.79" r="1.30" fill="#e60980"/>
<circle cx="500.34" cy="124.23" r="1.30" fill="#4a8cf2"/>
<circle cx="490.51" cy="135.21" r="1.30" fill="#962dd7"/>
<circle cx="438.67" cy="179.68" r="1.30" fill="#4a8cf2"/>
<circle cx="474.59" cy="161.46" r="1.30" fill="#478af4"/>
<circle cx="452.40" cy="179.67" r="1.30" fill="#962dd7"/>
<circle cx="420.07" cy="176.58" r="1.30" fill="#4a8cf2"/>
<circle cx="530.57" cy="83.65" r="1.30" fill="#4a8cf2"/>
<circle cx="497.74" cy="125.86" r="1.30" fill="#c317ae"/>
<circle cx="427.76" cy="179.44" r="1.30" fill="#478af4"/>
<circle cx="532.64" cy="82.53" r="1.30" fill="#962dd7"/>
<circle cx="458.18" cy="173.86" r="1.30" fill="#5090f0"/>
<circle cx="502.48" cy="121.68" r="1.30" fill="#5090f0"/>
<circle cx="473.56" cy="161.51" r="1.30" fill="#5090f0"/>
<circle cx="529.56" cy="85.25" r="1.30" fill="#478af4"/>
<circle cx="537.34" cy="74.82" r="1.30" fill="#5090f0"/>
<circle cx="493.30" cy="137.36" r="1.30" fill="#478af4"/>
<circle cx="580.00" cy="46.00" r="1.30" fill="#8738dd"/>
<circle cx="623.40" cy="24.20" r="1.30" fill="#4a8cf2"/>
<circle cx="435.58" cy="178.44" r="1.30" fill="#4a8cf2"/>
<circle cx="485.38" cy="141.95" r="1.30" fill="#b120c0"/>
<circle cx="597.50" cy="58.90" r="1.30" fill="#fc0759"/>
<circle cx="440.34" cy="177.66" r="1.30" fill="#478af4"/>
<circle cx="428.00" cy="181.49" r="1.30" fill="#833bdf"/>
<circle cx="629.60" cy="34.10" r="1.30" fill="#dc0c8e"/>
<circle cx="446.84" cy="180.13" r="1.30" fill="#4a8cf2"/>
<circle cx="561.17" cy="56.10" r="1.30" fill="#4a8cf2"/>
<circle cx="495.63" cy="129.00" r="1.30" fill="#833bdf"/>
<circle cx="473.55" cy="164.21" r="1.30" fill="#5090f0"/>
<circle cx="630.80" cy="24.20" r="1.30" fill="#4a8cf2"/>
<circle cx="561.10" cy="76.40" r="1.30" fill="#fe0954"/>
<circle cx="504.24" cy="119.12" r="1.30" fill="#5090f0"/>
<circle cx="506.63" cy="117.84" r="1.30" fill="#5090f0"/>
<circle cx="555.16" cy="61.48" r="1.30" fill="#833bdf"/>
<circle cx="437.40" cy="178.43" r="1.30" fill="#478af4"/>
<circle cx="534.40" cy="95.30" r="1.30" fill="#fc075b"/>
<circle cx="449.83" cy="177.73" r="1.30" fill="#5090f0"/>
<circle cx="600.60" cy="39.00" r="1.30" fill="#bb1ab6"/>
<circle cx="549.45" cy="65.60" r="1.30" fill="#478af4"/>
<circle cx="495.72" cy="134.30" r="1.30" fill="#478af4"/>
<circle cx="423.90" cy="178.49" r="1.30" fill="#5090f0"/>
<circle cx="505.53" cy="116.63" r="1.30" fill="#478af4"/>
<circle cx="546.10" cy="86.30" r="1.30" fill="#fb065e"/>
<circle cx="640.10" cy="48.90" r="1.30" fill="#fd0857"/>
<circle cx="466.57" cy="169.84" r="1.30" fill="#478af4"/>
<circle cx="512.02" cy="107.77" r="1.30" fill="#478af4"/>
<circle cx="427.61" cy="179.07" r="1.30" fill="#478af4"/>
<circle cx="447.46" cy="176.74" r="1.30" fill="#478af4"/>
<circle cx="516.92" cy="103.21" r="1.30" fill="#5090f0"/>
<circle cx="624.00" cy="34.70" r="1.30" fill="#dc0c8d"/>
<circle cx="418.65" cy="173.96" r="1.30" fill="#4a8cf2"/>
<circle cx="448.28" cy="177.57" r="1.30" fill="#478af4"/>
<circle cx="575.20" cy="57.50" r="1.30" fill="#d80e92"/>
<circle cx="640.70" cy="47.07" r="1.30" fill="#ef0772"/>
<circle cx="494.20" cy="133.24" r="1.30" fill="#4a8cf2"/>
<circle cx="515.66" cy="99.00" r="1.30" fill="#b120c0"/>
<circle cx="418.58" cy="177.22" r="1.30" fill="#4a8cf2"/>
<circle cx="532.81" cy="81.14" r="1.30" fill="#4a8cf2"/>
<circle cx="556.60" cy="61.44" r="1.30" fill="#4a8cf2"/>
<circle cx="574.50" cy="68.30" r="1.30" fill="#fc075c"/>
<circle cx="606.10" cy="32.20" r="1.30" fill="#4a8cf2"/>
<circle cx="518.77" cy="100.71" r="1.30" fill="#5090f0"/>
<circle cx="456.91" cy="176.34" r="1.30" fill="#5090f0"/>
<circle cx="435.95" cy="180.25" r="1.30" fill="#4a8cf2"/>
<circle cx="423.01" cy="177.03" r="1.30" fill="#5090f0"/>
<circle cx="425.50" cy="179.98" r="1.30" fill="#4a8cf2"/>
<circle cx="468.14" cy="167.47" r="1.30" fill="#4a8cf2"/>
<circle cx="452.86" cy="175.79" r="1.30" fill="#4a8cf2"/>
<circle cx="459.59" cy="171.59" r="1.30" fill="#4a8cf2"/>
<circle cx="505.34" cy="117.43" r="1.30" fill="#478af4"/>
<circle cx="541.49" cy="71.57" r="1.30" fill="#478af4"/>
<circle cx="560.12" cy="56.87" r="1.30" fill="#5090f0"/>
<circle cx="420.42" cy="178.23" r="1.30" fill="#478af4"/>
<circle cx="462.32" cy="173.39" r="1.30" fill="#5090f0"/>
<circle cx="535.48" cy="77.08" r="1.30" fill="#4a8cf2"/>
<circle cx="535.62" cy="77.57" r="1.30" fill="#4a8cf2"/>
<circle cx="444.49" cy="178.05" r="1.30" fill="#4a8cf2"/>
<circle cx="530.74" cy="86.31" r="1.30" fill="#833bdf"/>
<circle cx="431.38" cy="178.72" r="1.30" fill="#4a8cf2"/>
<circle cx="431.91" cy="180.60" r="1.30" fill="#478af4"/>
<circle cx="640.70" cy="35.64" r="1.30" fill="#d1119b"/>
<circle cx="555.26" cy="60.54" r="1.30" fill="#4a8cf2"/>
<circle cx="529.00" cy="92.40" r="1.30" fill="#e00a88"/>
<circle cx="426.71" cy="180.00" r="1.30" fill="#962dd7"/>
<circle cx="514.91" cy="104.31" r="1.30" fill="#5090f0"/>
<circle cx="425.36" cy="176.68" r="1.30" fill="#478af4"/>
<circle cx="453.03" cy="175.39" r="1.30" fill="#4a8cf2"/>
<circle cx="521.78" cy="97.03" r="1.30" fill="#478af4"/>
<circle cx="472.09" cy="164.18" r="1.30" fill="#5090f0"/>
<circle cx="433.17" cy="178.76" r="1.30" fill="#478af4"/>
<circle cx="552.30" cy="76.20" r="1.30" fill="#e20a86"/>
<circle cx="602.40" cy="33.50" r="1.30" fill="#4a8cf2"/>
<circle cx="524.90" cy="92.62" r="1.30" fill="#5090f0"/>
<circle cx="508.44" cy="111.23" r="1.30" fill="#a924c7"/>
<circle cx="464.20" cy="172.20" r="1.30" fill="#478af4"/>
<circle cx="465.56" cy="165.38" r="1.30" fill="#833bdf"/>
<circle cx="523.93" cy="88.75" r="1.30" fill="#b120c0"/>
<circle cx="449.55" cy="176.91" r="1.30" fill="#5090f0"/>
<circle cx="435.46" cy="179.72" r="1.30" fill="#5090f0"/>
<circle cx="472.81" cy="163.78" r="1.30" fill="#5090f0"/>
<circle cx="586.00" cy="42.40" r="1.30" fill="#8a36dc"/>
<circle cx="524.41" cy="93.38" r="1.30" fill="#5090f0"/>
<circle cx="573.20" cy="52.80" r="1.30" fill="#e10a87"/>
<circle cx="469.31" cy="162.16" r="1.30" fill="#a924c7"/>
<circle cx="421.00" cy="178.10" r="1.30" fill="#a924c7"/>
<circle cx="558.56" cy="60.15" r="1.30" fill="#4a8cf2"/>
<circle cx="458.89" cy="176.61" r="1.30" fill="#962dd7"/>
<circle cx="532.92" cy="81.53" r="1.30" fill="#4a8cf2"/>
<circle cx="450.99" cy="176.46" r="1.30" fill="#478af4"/>
<circle cx="567.80" cy="72.40" r="1.30" fill="#fb065e"/>
<circle cx="484.96" cy="141.83" r="1.30" fill="#c317ae"/>
<circle cx="488.88" cy="143.46" r="1.30" fill="#478af4"/>
<circle cx="454.32" cy="177.21" r="1.30" fill="#478af4"/>
<circle cx="634.60" cy="24.60" r="1.30" fill="#4a8cf2"/>
<circle cx="522.01" cy="95.39" r="1.30" fill="#5090f0"/>
<circle cx="546.39" cy="67.27" r="1.30" fill="#5090f0"/>
<circle cx="624.00" cy="29.20" r="1.30" fill="#b61dbb"/>
<circle cx="545.82" cy="68.69" r="1.30" fill="#5090f0"/>
<circle cx="547.66" cy="66.52" r="1.30" fill="#4a8cf2"/>
<circle cx="525.97" cy="91.27" r="1.30" fill="#478af4"/>
<circle cx="589.40" cy="44.00" r="1.30" fill="#dd0c8d"/>
<circle cx="448.31" cy="179.99" r="1.30" fill="#478af4"/>
<circle cx="504.79" cy="117.80" r="1.30" fill="#4a8cf2"/>
<circle cx="428.04" cy="179.77" r="1.30" fill="#4a8cf2"/>
<circle cx="506.57" cy="114.99" r="1.30" fill="#4a8cf2"/>
<circle cx="430.73" cy="180.02" r="1.30" fill="#5090f0"/>
<circle cx="554.65" cy="62.20" r="1.30" fill="#478af4"/>
<circle cx="481.36" cy="153.21" r="1.30" fill="#478af4"/>
<circle cx="468.97" cy="162.70" r="1.30" fill="#d50f96"/>
<circle cx="543.17" cy="71.37" r="1.30" fill="#4a8cf2"/>
<circle cx="516.93" cy="98.62" r="1.30" fill="#a924c7"/>
<circle cx="419.12" cy="175.48" r="1.30" fill="#4a8cf2"/>
<circle cx="418.65" cy="176.39" r="1.30" fill="#4a8cf2"/>
<circle cx="556.60" cy="62.26" r="1.30" fill="#a924c7"/>
<circle cx="521.38" cy="97.11" r="1.30" fill="#5090f0"/>
<circle cx="483.34" cy="147.29" r="1.30" fill="#a924c7"/>
<circle cx="555.69" cy="58.60" r="1.30" fill="#5090f0"/>
<line x1="411.00" y1="10.20" x2="411.00" y2="190.00" stroke="#999999" stroke-width="1.30"/>
<line x1="410.50" y1="189.50" x2="647.90" y2="189.50" stroke="#555555" stroke-width="1.00"/>
<line x1="418.20" y1="189.50" x2="418.20" y2="192.50" stroke="#555555" stroke-width="0.80"/>
<text x="418.20" y="199.00" font-size="7.35" text-anchor="middle" fill="#333333">0</text>
<line x1="455.23" y1="189.50" x2="455.23" y2="192.50" stroke="#555555" stroke-width="0.80"/>
<text x="455.23" y="199.00" font-size="7.35" text-anchor="middle" fill="#333333">1</text>
<line x1="492.26" y1="189.50" x2="492.26" y2="192.50" stroke="#555555" stroke-width="0.80"/>
<text x="492.26" y="199.00" font-size="7.35" text-anchor="middle" fill="#333333">2</text>
<line x1="529.29" y1="189.50" x2="529.29" y2="192.50" stroke="#555555" stroke-width="0.80"/>
<text x="529.29" y="199.00" font-size="7.35" text-anchor="middle" fill="#333333">3</text>
<line x1="566.32" y1="189.50" x2="566.32" y2="192.50" stroke="#555555" stroke-width="0.80"/>
<text x="566.32" y="199.00" font-size="7.35" text-anchor="middle" fill="#333333">4</text>
<line x1="603.35" y1="189.50" x2="603.35" y2="192.50" stroke="#555555" stroke-width="0.80"/>
<text x="603.35" y="199.00" font-size="7.35" text-anchor="middle" fill="#333333">5</text>
<line x1="640.38" y1="189.50" x2="640.38" y2="192.50" stroke="#555555" stroke-width="0.80"/>
<text x="640.38" y="199.00" font-size="7.35" text-anchor="middle" fill="#333333">6</text>
<line x1="408.00" y1="168.40" x2="411.00" y2="168.40" stroke="#555555" stroke-width="0.80"/>
<text x="406.60" y="171.00" font-size="7.35" text-anchor="end" fill="#333333">−1</text>
<line x1="408.00" y1="137.60" x2="411.00" y2="137.60" stroke="#555555" stroke-width="0.80"/>
<text x="406.60" y="140.20" font-size="7.35" text-anchor="end" fill="#333333">0</text>
<line x1="408.00" y1="106.80" x2="411.00" y2="106.80" stroke="#555555" stroke-width="0.80"/>
<text x="406.60" y="109.40" font-size="7.35" text-anchor="end" fill="#333333">1</text>
<line x1="408.00" y1="76.00" x2="411.00" y2="76.00" stroke="#555555" stroke-width="0.80"/>
<text x="406.60" y="78.60" font-size="7.35" text-anchor="end" fill="#333333">2</text>
<line x1="408.00" y1="45.20" x2="411.00" y2="45.20" stroke="#555555" stroke-width="0.80"/>
<text x="406.60" y="47.80" font-size="7.35" text-anchor="end" fill="#333333">3</text>
<line x1="408.00" y1="14.40" x2="411.00" y2="14.40" stroke="#555555" stroke-width="0.80"/>
<text x="406.60" y="17.00" font-size="7.35" text-anchor="end" fill="#333333">4</text>
<text x="529.85" y="6.50" font-size="7.80" text-anchor="middle" fill="#222222" textLength="224.43" lengthAdjust="spacingAndGlyphs" stroke="#222222" stroke-width="0.08">Impact of Post-operative model Predictions on Model Output</text>
<text x="529.00" y="209.20" font-size="8.47" text-anchor="middle" fill="#333333" textLength="175.94" lengthAdjust="spacingAndGlyphs" stroke="#333333" stroke-width="0.22">Post-operative model Prediction Score (0-6)</text>
<text x="393.30" y="100.40" font-size="8.36" text-anchor="middle" fill="#333333" textLength="150.07" lengthAdjust="spacingAndGlyphs" transform="rotate(-90 393.30 100.40)" stroke="#333333" stroke-width="0.22">SHAP value impact on final prediction</text>
<defs><linearGradient id="cbb" x1="0" y1="1" x2="0" y2="0"><stop offset="0.00" stop-color="#2d7af8"/><stop offset="0.10" stop-color="#416bf4"/><stop offset="0.20" stop-color="#555cf0"/><stop offset="0.30" stop-color="#6d4be8"/><stop offset="0.40" stop-color="#8837dd"/><stop offset="0.50" stop-color="#a326cb"/><stop offset="0.60" stop-color="#be19b4"/><stop offset="0.70" stop-color="#d50f96"/><stop offset="0.80" stop-color="#e9087b"/><stop offset="0.90" stop-color="#fa0562"/><stop offset="1.00" stop-color="#ff0a50"/></linearGradient></defs>
<rect x="663.00" y="10.20" width="2.00" height="177.80" fill="url(#cbb)"/>
<line x1="665.00" y1="153.71" x2="667.50" y2="153.71" stroke="#333333" stroke-width="0.80"/>
<text x="669.30" y="156.31" font-size="7.35" text-anchor="start" fill="#333333">2</text>
<line x1="665.00" y1="114.04" x2="667.50" y2="114.04" stroke="#333333" stroke-width="0.80"/>
<text x="669.30" y="116.64" font-size="7.35" text-anchor="start" fill="#333333">3</text>
<line x1="665.00" y1="74.37" x2="667.50" y2="74.37" stroke="#333333" stroke-width="0.80"/>
<text x="669.30" y="76.97" font-size="7.35" text-anchor="start" fill="#333333">4</text>
<line x1="665.00" y1="34.70" x2="667.50" y2="34.70" stroke="#333333" stroke-width="0.80"/>
<text x="669.30" y="37.30" font-size="7.35" text-anchor="start" fill="#333333">5</text>
<text x="682.40" y="99.95" font-size="8.34" text-anchor="middle" fill="#333333" textLength="80.70" lengthAdjust="spacingAndGlyphs" transform="rotate(-90 682.40 99.95)" stroke="#333333" stroke-width="0.22">Pre-operative model</text>
<rect x="98.20" y="263.10" width="230.30" height="163.40" fill="#ffffff" stroke="#e0e0e0" stroke-width="0.8"/>
<line x1="98.20" y1="263.10" x2="98.20" y2="426.50" stroke="#e3e3e3" stroke-width="0.80"/>
<line x1="130.56" y1="263.10" x2="130.56" y2="426.50" stroke="#e3e3e3" stroke-width="0.80"/>
<line x1="162.92" y1="263.10" x2="162.92" y2="426.50" stroke="#e3e3e3" stroke-width="0.80"/>
<line x1="195.28" y1="263.10" x2="195.28" y2="426.50" stroke="#e3e3e3" stroke-width="0.80"/>
<line x1="227.64" y1="263.10" x2="227.64" y2="426.50" stroke="#e3e3e3" stroke-width="0.80"/>
<line x1="260.00" y1="263.10" x2="260.00" y2="426.50" stroke="#e3e3e3" stroke-width="0.80"/>
<line x1="292.36" y1="263.10" x2="292.36" y2="426.50" stroke="#e3e3e3" stroke-width="0.80"/>
<line x1="324.72" y1="263.10" x2="324.72" y2="426.50" stroke="#e3e3e3" stroke-width="0.80"/>
<line x1="98.20" y1="276.00" x2="328.50" y2="276.00" stroke="#e3e3e3" stroke-width="0.80"/>
<line x1="98.20" y1="289.79" x2="328.50" y2="289.79" stroke="#e3e3e3" stroke-width="0.80"/>
<line x1="98.20" y1="303.58" x2="328.50" y2="303.58" stroke="#e3e3e3" stroke-width="0.80"/>
<line x1="98.20" y1="317.37" x2="328.50" y2="317.37" stroke="#e3e3e3" stroke-width="0.80"/>
<line x1="98.20" y1="331.16" x2="328.50" y2="331.16" stroke="#e3e3e3" stroke-width="0.80"/>
<line x1="98.20" y1="344.95" x2="328.50" y2="344.95" stroke="#e3e3e3" stroke-width="0.80"/>
<line x1="98.20" y1="358.74" x2="328.50" y2="358.74" stroke="#e3e3e3" stroke-width="0.80"/>
<line x1="98.20" y1="372.53" x2="328.50" y2="372.53" stroke="#e3e3e3" stroke-width="0.80"/>
<line x1="98.20" y1="386.32" x2="328.50" y2="386.32" stroke="#e3e3e3" stroke-width="0.80"/>
<line x1="98.20" y1="400.11" x2="328.50" y2="400.11" stroke="#e3e3e3" stroke-width="0.80"/>
<line x1="98.20" y1="413.90" x2="328.50" y2="413.90" stroke="#e3e3e3" stroke-width="0.80"/>
<rect x="98.20" y="270.80" width="219.40" height="10.40" fill="#37a12b" fill-opacity="0.8"/>
<text x="94.80" y="278.40" font-size="5.68" text-anchor="end" fill="#3a3a3a" textLength="39.33" lengthAdjust="spacingAndGlyphs">Hunt-Hess_score</text>
<text x="317.90" y="278.20" font-size="5.31" text-anchor="end" fill="#2a2a2a" textLength="12.60" lengthAdjust="spacingAndGlyphs">0.678</text>
<rect x="98.20" y="284.59" width="122.64" height="10.40" fill="#37a12b" fill-opacity="0.8"/>
<text x="94.80" y="292.19" font-size="5.68" text-anchor="end" fill="#3a3a3a" textLength="30.11" lengthAdjust="spacingAndGlyphs">SEBES_score</text>
<text x="221.14" y="291.99" font-size="5.31" text-anchor="end" fill="#2a2a2a" textLength="12.60" lengthAdjust="spacingAndGlyphs">0.379</text>
<rect x="98.20" y="298.38" width="115.20" height="10.40" fill="#37a12b" fill-opacity="0.8"/>
<text x="94.80" y="305.98" font-size="5.68" text-anchor="end" fill="#3a3a3a" textLength="25.16" lengthAdjust="spacingAndGlyphs">mFS_score</text>
<text x="213.70" y="305.78" font-size="5.31" text-anchor="end" fill="#2a2a2a" textLength="12.60" lengthAdjust="spacingAndGlyphs">0.356</text>
<rect x="98.20" y="312.17" width="80.90" height="10.40" fill="#37a12b" fill-opacity="0.8"/>
<text x="94.80" y="319.77" font-size="5.68" text-anchor="end" fill="#3a3a3a" textLength="9.09" lengthAdjust="spacingAndGlyphs">Age</text>
<text x="179.40" y="319.57" font-size="5.31" text-anchor="end" fill="#2a2a2a" textLength="12.60" lengthAdjust="spacingAndGlyphs">0.250</text>
<rect x="98.20" y="325.96" width="68.60" height="10.40" fill="#909090" fill-opacity="0.8"/>
<text x="94.80" y="333.56" font-size="5.68" text-anchor="end" fill="#3a3a3a" textLength="83.85" lengthAdjust="spacingAndGlyphs">Localized_subarachnoid_hematoma</text>
<text x="167.10" y="333.36" font-size="5.31" text-anchor="end" fill="#2a2a2a" textLength="12.60" lengthAdjust="spacingAndGlyphs">0.212</text>
<rect x="98.20" y="339.75" width="55.01" height="10.40" fill="#909090" fill-opacity="0.8"/>
<text x="94.80" y="347.35" font-size="5.68" text-anchor="end" fill="#3a3a3a" textLength="19.13" lengthAdjust="spacingAndGlyphs">Clipping</text>
<text x="153.51" y="347.15" font-size="5.31" text-anchor="end" fill="#2a2a2a" textLength="12.60" lengthAdjust="spacingAndGlyphs">0.170</text>
<rect x="98.20" y="353.54" width="42.72" height="10.40" fill="#909090" fill-opacity="0.8"/>
<text x="94.80" y="361.14" font-size="5.68" text-anchor="end" fill="#3a3a3a" textLength="47.59" lengthAdjust="spacingAndGlyphs">Posterior_circulation</text>
<text x="141.22" y="360.94" font-size="5.31" text-anchor="end" fill="#2a2a2a" textLength="12.60" lengthAdjust="spacingAndGlyphs">0.132</text>
<rect x="98.20" y="367.33" width="33.98" height="10.40" fill="#909090" fill-opacity="0.8"/>
<text x="94.80" y="374.93" font-size="5.68" text-anchor="end" fill="#3a3a3a" textLength="50.28" lengthAdjust="spacingAndGlyphs">Acute_hydrocephalus</text>
<text x="132.48" y="374.73" font-size="5.31" text-anchor="end" fill="#2a2a2a" textLength="12.60" lengthAdjust="spacingAndGlyphs">0.105</text>
<rect x="98.20" y="381.12" width="31.07" height="10.40" fill="#909090" fill-opacity="0.8"/>
<text x="94.80" y="388.72" font-size="5.68" text-anchor="end" fill="#3a3a3a" textLength="11.13" lengthAdjust="spacingAndGlyphs">Male</text>
<text x="129.57" y="388.52" font-size="5.31" text-anchor="end" fill="#2a2a2a" textLength="12.60" lengthAdjust="spacingAndGlyphs">0.096</text>
<rect x="98.20" y="394.91" width="26.54" height="10.40" fill="#909090" fill-opacity="0.8"/>
<text x="94.80" y="402.51" font-size="5.68" text-anchor="end" fill="#3a3a3a" textLength="31.45" lengthAdjust="spacingAndGlyphs">Hypertension</text>
<text x="125.04" y="402.31" font-size="5.31" text-anchor="end" fill="#2a2a2a" textLength="12.60" lengthAdjust="spacingAndGlyphs">0.082</text>
<rect x="98.20" y="408.70" width="22.98" height="10.40" fill="#909090" fill-opacity="0.8"/>
<text x="94.80" y="416.30" font-size="5.68" text-anchor="end" fill="#3a3a3a" textLength="9.65" lengthAdjust="spacingAndGlyphs">Size</text>
<text x="121.48" y="416.10" font-size="5.31" text-anchor="end" fill="#2a2a2a" textLength="12.60" lengthAdjust="spacingAndGlyphs">0.071</text>
<text x="98.20" y="434.10" font-size="5.64" text-anchor="middle" fill="#333333" textLength="7.63" lengthAdjust="spacingAndGlyphs">0.0</text>
<text x="130.56" y="434.10" font-size="5.64" text-anchor="middle" fill="#333333" textLength="7.63" lengthAdjust="spacingAndGlyphs">0.1</text>
<text x="162.92" y="434.10" font-size="5.64" text-anchor="middle" fill="#333333" textLength="7.63" lengthAdjust="spacingAndGlyphs">0.2</text>
<text x="195.28" y="434.10" font-size="5.64" text-anchor="middle" fill="#333333" textLength="7.63" lengthAdjust="spacingAndGlyphs">0.3</text>
<text x="227.64" y="434.10" font-size="5.64" text-anchor="middle" fill="#333333" textLength="7.63" lengthAdjust="spacingAndGlyphs">0.4</text>
<text x="260.00" y="434.10" font-size="5.64" text-anchor="middle" fill="#333333" textLength="7.63" lengthAdjust="spacingAndGlyphs">0.5</text>
<text x="292.36" y="434.10" font-size="5.64" text-anchor="middle" fill="#333333" textLength="7.63" lengthAdjust="spacingAndGlyphs">0.6</text>
<text x="324.72" y="434.10" font-size="5.64" text-anchor="middle" fill="#333333" textLength="7.63" lengthAdjust="spacingAndGlyphs">0.7</text>
<text x="213.40" y="260.20" font-size="10.17" text-anchor="middle" fill="#2a2a2a" textLength="121.64" lengthAdjust="spacingAndGlyphs" stroke="#2a2a2a" stroke-width="0.12">Lasso Coefficient Analysis</text>
<text x="213.25" y="443.70" font-size="10.16" text-anchor="middle" fill="#2a2a2a" textLength="79.11" lengthAdjust="spacingAndGlyphs" stroke="#2a2a2a" stroke-width="0.12">Coefficient Value</text>
<text x="7.10" y="345.40" font-size="10.17" text-anchor="middle" fill="#2a2a2a" textLength="40.42" lengthAdjust="spacingAndGlyphs" transform="rotate(-90 7.10 345.40)" stroke="#2a2a2a" stroke-width="0.12">Features</text>
<rect x="261" y="409.1" width="65.7" height="15.2" rx="1.2" fill="#ffffff" fill-opacity="0.85" stroke="#dddddd" stroke-width="0.6"/>
<rect x="263.20" y="411.80" width="8.70" height="2.60" fill="#37a12b" fill-opacity="0.8"/>
<rect x="263.20" y="418.80" width="8.70" height="2.60" fill="#909090" fill-opacity="0.8"/>
<text x="275.60" y="414.90" font-size="5.61" text-anchor="start" fill="#222222" textLength="42.70" lengthAdjust="spacingAndGlyphs">Selected Features</text>
<text x="275.60" y="421.90" font-size="5.60" text-anchor="start" fill="#222222" textLength="48.57" lengthAdjust="spacingAndGlyphs">Unselected Features</text>
<rect x="450.20" y="270.00" width="231.30" height="154.10" fill="#ffffff" stroke="#e0e0e0" stroke-width="0.8"/>
<line x1="450.20" y1="270.00" x2="450.20" y2="424.10" stroke="#e3e3e3" stroke-width="0.80"/>
<line x1="485.90" y1="270.00" x2="485.90" y2="424.10" stroke="#e3e3e3" stroke-width="0.80"/>
<line x1="521.60" y1="270.00" x2="521.60" y2="424.10" stroke="#e3e3e3" stroke-width="0.80"/>
<line x1="557.30" y1="270.00" x2="557.30" y2="424.10" stroke="#e3e3e3" stroke-width="0.80"/>
<line x1="593.00" y1="270.00" x2="593.00" y2="424.10" stroke="#e3e3e3" stroke-width="0.80"/>
<line x1="628.70" y1="270.00" x2="628.70" y2="424.10" stroke="#e3e3e3" stroke-width="0.80"/>
<line x1="664.40" y1="270.00" x2="664.40" y2="424.10" stroke="#e3e3e3" stroke-width="0.80"/>
<line x1="450.20" y1="288.90" x2="681.50" y2="288.90" stroke="#e3e3e3" stroke-width="0.80"/>
<line x1="450.20" y1="318.08" x2="681.50" y2="318.08" stroke="#e3e3e3" stroke-width="0.80"/>
<line x1="450.20" y1="347.26" x2="681.50" y2="347.26" stroke="#e3e3e3" stroke-width="0.80"/>
<line x1="450.20" y1="376.44" x2="681.50" y2="376.44" stroke="#e3e3e3" stroke-width="0.80"/>
<line x1="450.20" y1="405.62" x2="681.50" y2="405.62" stroke="#e3e3e3" stroke-width="0.80"/>
<rect x="450.20" y="277.40" width="172.61" height="23.00" fill="#e6ab24" fill-opacity="0.8"/>
<line x1="617.28" y1="288.90" x2="628.34" y2="288.90" stroke="#111111" stroke-width="1.10"/>
<line x1="617.28" y1="286.20" x2="617.28" y2="291.60" stroke="#111111" stroke-width="1.00"/>
<line x1="628.34" y1="286.20" x2="628.34" y2="291.60" stroke="#111111" stroke-width="1.00"/>
<text x="447.20" y="291.80" font-size="7.19" text-anchor="end" fill="#2a2a2a" textLength="72.35" lengthAdjust="spacingAndGlyphs">Stacking_imaging_model</text>
<text x="631.54" y="290.90" font-size="6.04" text-anchor="start" fill="#222222" textLength="14.31" lengthAdjust="spacingAndGlyphs">0.967</text>
<rect x="450.20" y="306.58" width="22.49" height="23.00" fill="#37a12b" fill-opacity="0.8"/>
<line x1="471.08" y1="318.08" x2="474.30" y2="318.08" stroke="#111111" stroke-width="1.10"/>
<line x1="471.08" y1="315.38" x2="471.08" y2="320.78" stroke="#111111" stroke-width="1.00"/>
<line x1="474.30" y1="315.38" x2="474.30" y2="320.78" stroke="#111111" stroke-width="1.00"/>
<text x="447.20" y="320.98" font-size="7.19" text-anchor="end" fill="#2a2a2a" textLength="48.54" lengthAdjust="spacingAndGlyphs">Hunt-Hess_score</text>
<text x="477.50" y="320.08" font-size="6.04" text-anchor="start" fill="#222222" textLength="14.31" lengthAdjust="spacingAndGlyphs">0.126</text>
<rect x="450.20" y="335.76" width="10.53" height="23.00" fill="#37a12b" fill-opacity="0.8"/>
<line x1="459.48" y1="347.26" x2="461.98" y2="347.26" stroke="#111111" stroke-width="1.10"/>
<line x1="459.48" y1="344.56" x2="459.48" y2="349.96" stroke="#111111" stroke-width="1.00"/>
<line x1="461.98" y1="344.56" x2="461.98" y2="349.96" stroke="#111111" stroke-width="1.00"/>
<text x="447.20" y="350.16" font-size="7.19" text-anchor="end" fill="#2a2a2a" textLength="31.05" lengthAdjust="spacingAndGlyphs">mFS_score</text>
<text x="465.18" y="349.26" font-size="6.04" text-anchor="start" fill="#222222" textLength="14.31" lengthAdjust="spacingAndGlyphs">0.059</text>
<rect x="450.20" y="364.94" width="9.82" height="23.00" fill="#37a12b" fill-opacity="0.8"/>
<line x1="458.77" y1="376.44" x2="461.27" y2="376.44" stroke="#111111" stroke-width="1.10"/>
<line x1="458.77" y1="373.74" x2="458.77" y2="379.14" stroke="#111111" stroke-width="1.00"/>
<line x1="461.27" y1="373.74" x2="461.27" y2="379.14" stroke="#111111" stroke-width="1.00"/>
<text x="447.20" y="379.34" font-size="7.19" text-anchor="end" fill="#2a2a2a" textLength="37.16" lengthAdjust="spacingAndGlyphs">SEBES_score</text>
<text x="464.47" y="378.44" font-size="6.04" text-anchor="start" fill="#222222" textLength="14.31" lengthAdjust="spacingAndGlyphs">0.055</text>
<rect x="450.20" y="394.12" width="5.89" height="23.00" fill="#37a12b" fill-opacity="0.8"/>
<line x1="455.38" y1="405.62" x2="456.80" y2="405.62" stroke="#111111" stroke-width="1.10"/>
<line x1="455.38" y1="402.92" x2="455.38" y2="408.32" stroke="#111111" stroke-width="1.00"/>
<line x1="456.80" y1="402.92" x2="456.80" y2="408.32" stroke="#111111" stroke-width="1.00"/>
<text x="447.20" y="408.52" font-size="7.19" text-anchor="end" fill="#2a2a2a" textLength="11.22" lengthAdjust="spacingAndGlyphs">Age</text>
<text x="460.00" y="407.62" font-size="6.04" text-anchor="start" fill="#222222" textLength="14.31" lengthAdjust="spacingAndGlyphs">0.033</text>
<text x="450.20" y="431.20" font-size="6.12" text-anchor="middle" fill="#333333" textLength="8.27" lengthAdjust="spacingAndGlyphs">0.0</text>
<text x="485.90" y="431.20" font-size="6.12" text-anchor="middle" fill="#333333" textLength="8.27" lengthAdjust="spacingAndGlyphs">0.2</text>
<text x="521.60" y="431.20" font-size="6.12" text-anchor="middle" fill="#333333" textLength="8.27" lengthAdjust="spacingAndGlyphs">0.4</text>
<text x="557.30" y="431.20" font-size="6.12" text-anchor="middle" fill="#333333" textLength="8.27" lengthAdjust="spacingAndGlyphs">0.6</text>
<text x="593.00" y="431.20" font-size="6.12" text-anchor="middle" fill="#333333" textLength="8.27" lengthAdjust="spacingAndGlyphs">0.8</text>
<text x="628.70" y="431.20" font-size="6.12" text-anchor="middle" fill="#333333" textLength="8.27" lengthAdjust="spacingAndGlyphs">1.0</text>
<text x="664.40" y="431.20" font-size="6.12" text-anchor="middle" fill="#333333" textLength="8.27" lengthAdjust="spacingAndGlyphs">1.2</text>
<text x="565.85" y="263.30" font-size="9.40" text-anchor="middle" fill="#2a2a2a" textLength="123.96" lengthAdjust="spacingAndGlyphs" stroke="#2a2a2a" stroke-width="0.12">Feature Importance Analysis</text>
</svg>
</body></html>
